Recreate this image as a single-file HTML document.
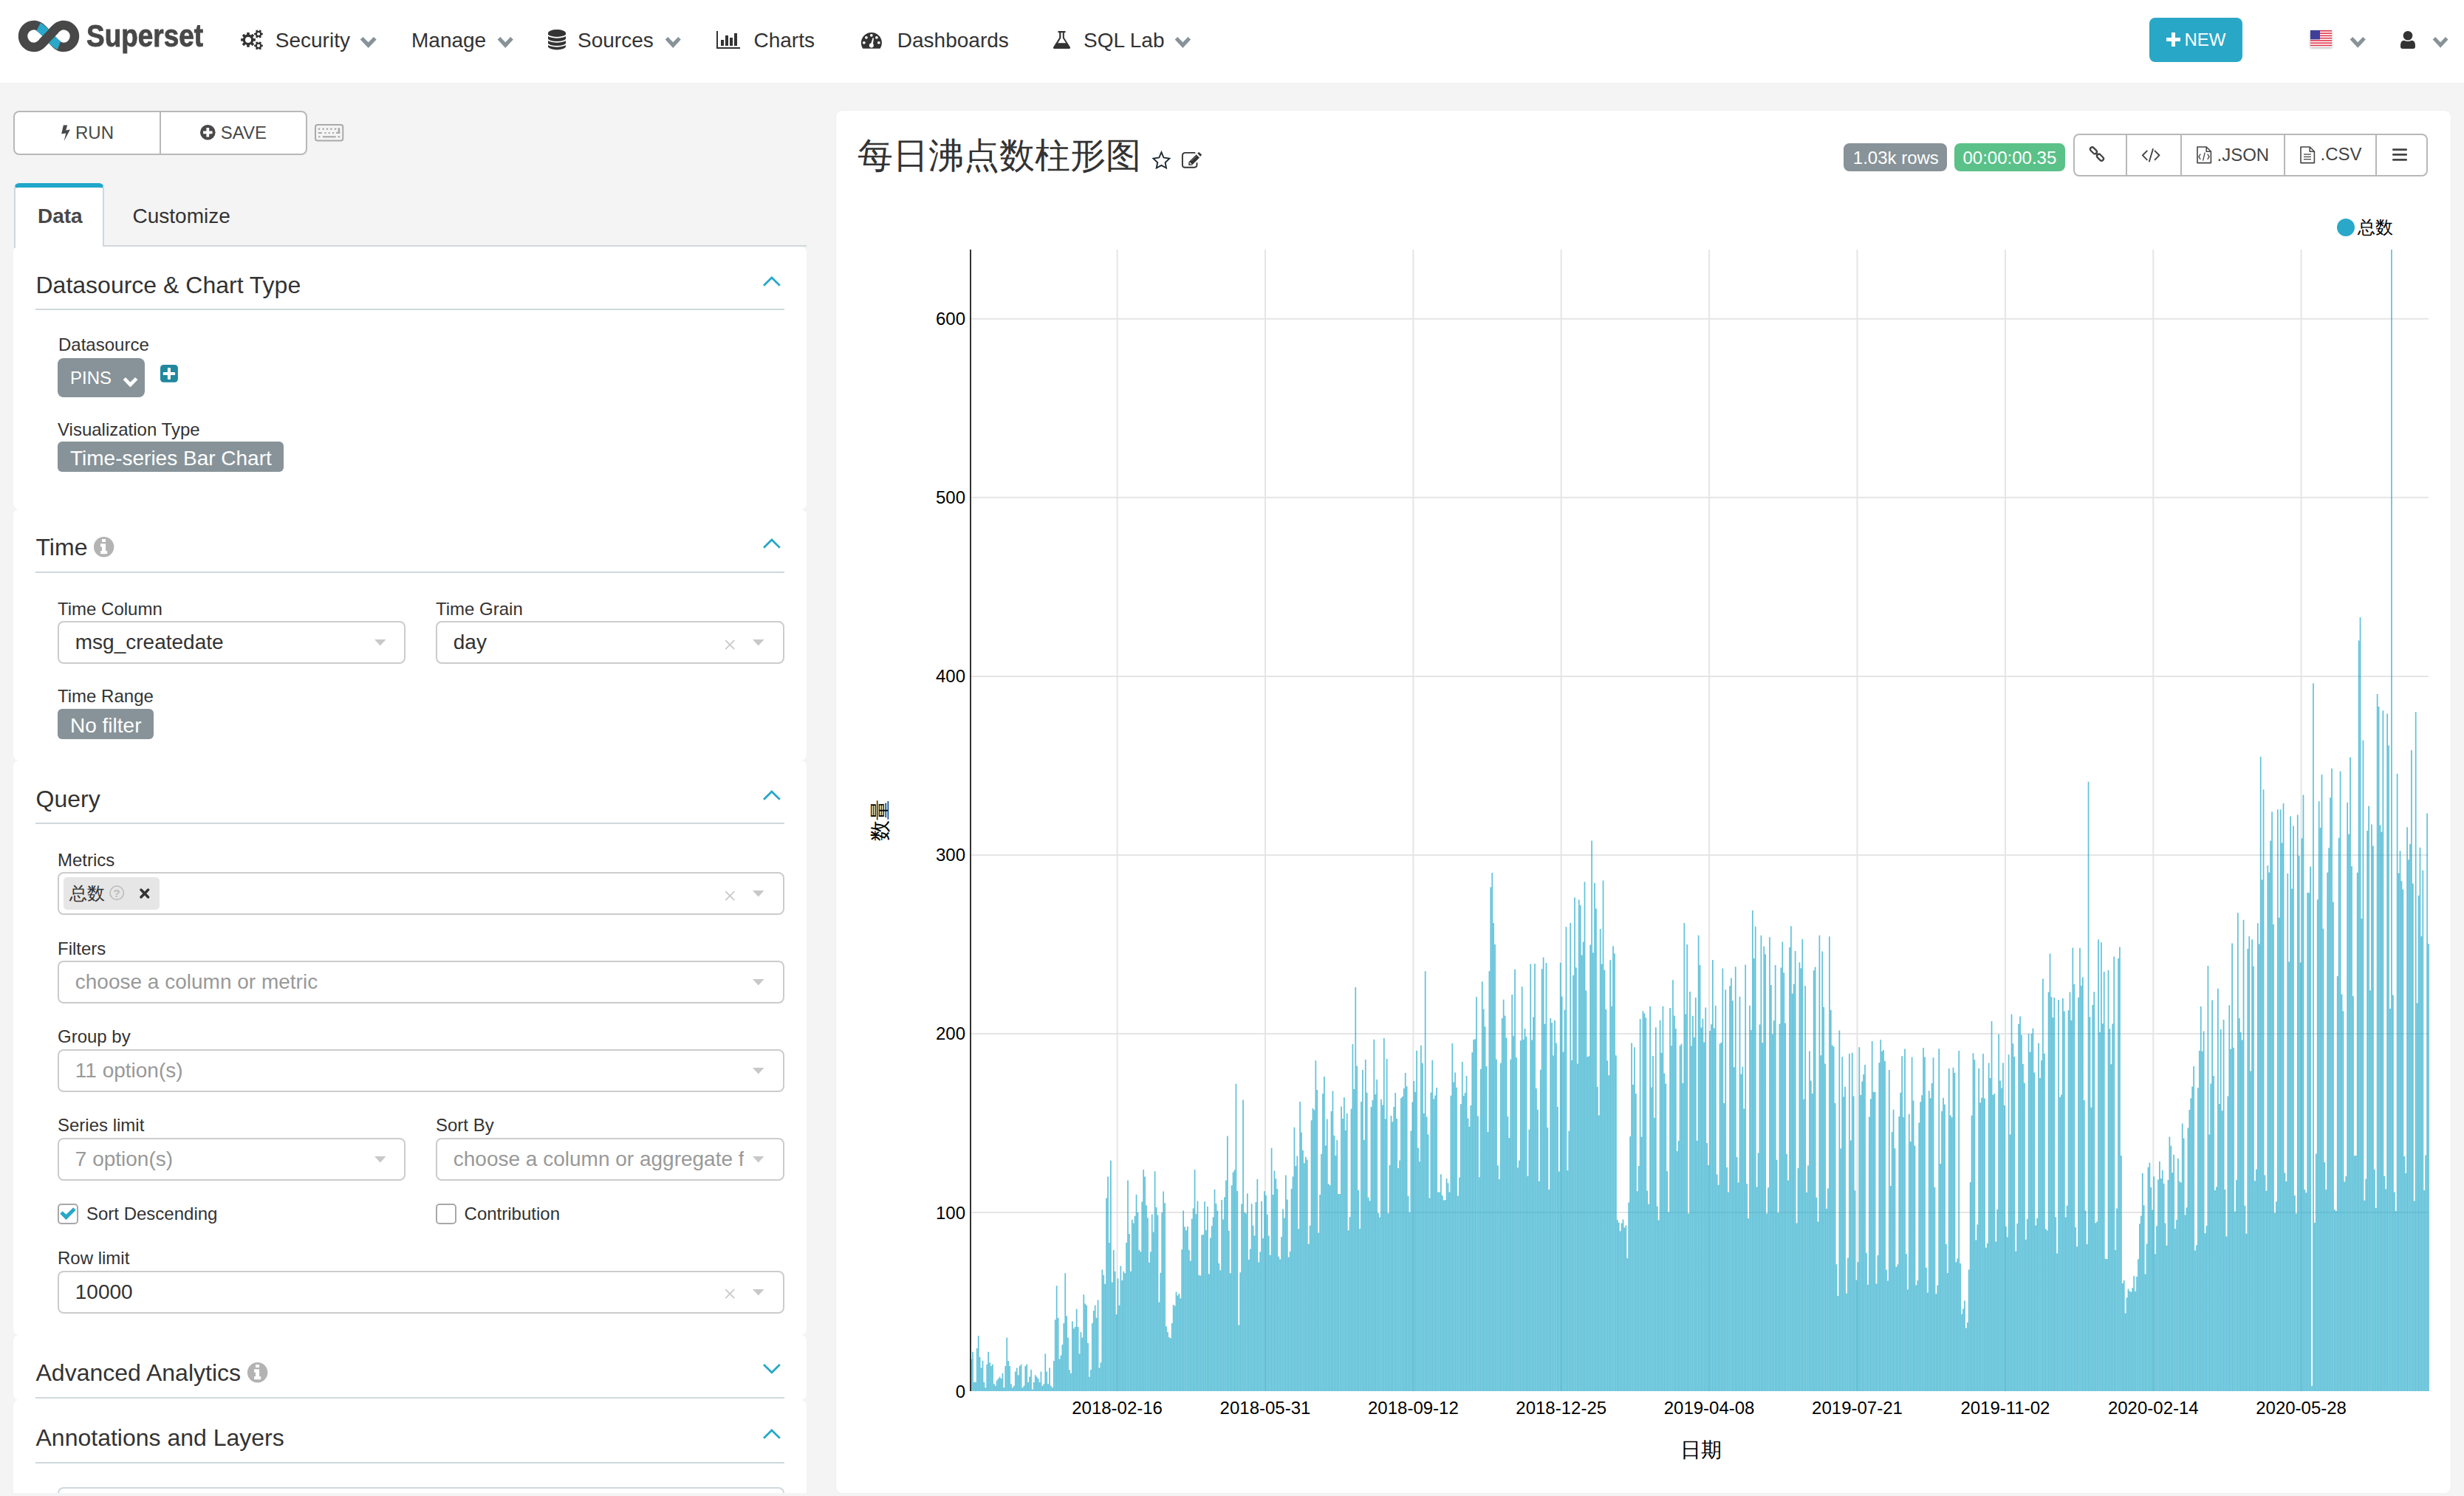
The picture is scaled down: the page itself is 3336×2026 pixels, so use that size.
<!DOCTYPE html>
<html><head><meta charset="utf-8"><title>Superset</title>
<style>
html,body{margin:0;padding:0;}
html{overflow:hidden;}
body{width:3336px;height:2026px;position:relative;overflow:hidden;background:#f4f4f4;font-family:"Liberation Sans", sans-serif;}
.t{position:absolute;white-space:nowrap;}
.b{position:absolute;display:block;}
</style></head><body>
<script>(function(){var w=window.innerWidth||3336;var z=w/3336;if(Math.abs(z-1)>0.01){document.documentElement.style.zoom=z;}})();</script>
<div class="b" style="left:0.0px;top:0.0px;width:3336.0px;height:112.0px;background:#fff;"></div>
<svg class="b" style="left:0.0px;top:0.0px;" width="120" height="100" viewBox="0 0 120 100"><path d="M66,49 C60,43 55,34 46,34 A15,15 0 0 0 46,64 C55,64 60,55 66,49 C72,43 77,34 86,34 A15,15 0 0 1 86,64 C77,64 72,55 66,49 Z" fill="none" stroke="#484848" stroke-width="12.5"/><path d="M52,36.5 C57,39 61,44 66,49 C71,54 75,59.5 80,61.5" fill="none" stroke="#2AA8C9" stroke-width="12.5"/><path d="M57,58 C60,55.5 63,52 66,49 C69,46 72,42.5 75,40" fill="none" stroke="#484848" stroke-width="12.5"/></svg>
<div class="t" style="left:116.8px;top:24.3px;font-size:42.4px;line-height:50px;font-weight:bold;color:#484848;transform:scaleX(0.871);transform-origin:0 0;letter-spacing:0px;-webkit-text-stroke:0.9px #484848">Superset</div>
<svg class="b" style="left:326.0px;top:40.0px;" width="31" height="29" viewBox="0 0 31 29">
<g fill="#333">
<circle cx="10" cy="13.9" r="7.3"/>
<g transform="translate(10,13.9)">
<rect x="-1.8" y="-9.9" width="3.6" height="19.8"/>
<rect x="-1.8" y="-9.9" width="3.6" height="19.8" transform="rotate(45)"/>
<rect x="-1.8" y="-9.9" width="3.6" height="19.8" transform="rotate(90)"/>
<rect x="-1.8" y="-9.9" width="3.6" height="19.8" transform="rotate(135)"/>
</g>
<g transform="translate(24,6)">
<circle r="4.3"/>
<rect x="-1.3" y="-5.8" width="2.6" height="11.6" transform="rotate(90)"/>
<rect x="-1.3" y="-5.8" width="2.6" height="11.6" transform="rotate(30)"/>
<rect x="-1.3" y="-5.8" width="2.6" height="11.6" transform="rotate(150)"/>
</g>
<g transform="translate(24,21.9)">
<circle r="4.3"/>
<rect x="-1.3" y="-5.8" width="2.6" height="11.6" transform="rotate(90)"/>
<rect x="-1.3" y="-5.8" width="2.6" height="11.6" transform="rotate(30)"/>
<rect x="-1.3" y="-5.8" width="2.6" height="11.6" transform="rotate(150)"/>
</g>
</g>
<circle cx="10" cy="13.9" r="4.0" fill="#fff"/>
<circle cx="24" cy="6" r="2.1" fill="#fff"/>
<circle cx="24" cy="21.9" r="2.1" fill="#fff"/>
</svg>
<div class="t " style="left:372.8px;top:41.0px;font-size:28px;line-height:28px;color:#333333;font-weight:normal;">Security</div>
<svg class="b" style="left:486.6px;top:50.0px;" width="23.399999999999977" height="15" viewBox="0 0 23.399999999999977 15"><polygon points="0.70,3.60 4.45,0.00 11.70,7.35 18.95,0.00 22.70,3.60 11.70,15.00" fill="#879399"/></svg>
<div class="t " style="left:557.0px;top:41.0px;font-size:28px;line-height:28px;color:#333333;font-weight:normal;">Manage</div>
<svg class="b" style="left:673.0px;top:50.0px;" width="22.5" height="15" viewBox="0 0 22.5 15"><polygon points="0.67,3.60 4.28,0.00 11.25,7.35 18.23,0.00 21.82,3.60 11.25,15.00" fill="#879399"/></svg>
<svg class="b" style="left:742.0px;top:40.0px;" width="24" height="28" viewBox="0 0 24 28"><g fill="#333"><ellipse cx="12" cy="4.75" rx="12" ry="4.75"/>
<path d="M0,4.75 V22.75 A12,4.75 0 0 0 24,22.75 V4.75 Z"/></g>
<g fill="none" stroke="#fff" stroke-width="1.7">
<path d="M-1,6.05 A13,4.75 0 0 0 25,6.05"/><path d="M-1,12.1 A13,4.75 0 0 0 25,12.1"/><path d="M-1,18.15 A13,4.75 0 0 0 25,18.15"/></g></svg>
<div class="t " style="left:782.0px;top:41.0px;font-size:28px;line-height:28px;color:#333333;font-weight:normal;">Sources</div>
<svg class="b" style="left:899.5px;top:50.0px;" width="22.5" height="15" viewBox="0 0 22.5 15"><polygon points="0.67,3.60 4.28,0.00 11.25,7.35 18.23,0.00 21.82,3.60 11.25,15.00" fill="#879399"/></svg>
<svg class="b" style="left:970.0px;top:42.0px;" width="32" height="24" viewBox="0 0 32 24"><g fill="#333">
<rect x="0" y="0" width="2" height="24"/>
<rect x="0" y="22" width="32" height="2"/>
<rect x="6" y="12" width="4" height="8"/>
<rect x="12" y="6" width="4" height="14"/>
<rect x="18" y="9" width="4" height="11"/>
<rect x="24" y="3" width="4" height="17"/>
</g></svg>
<div class="t " style="left:1020.5px;top:41.0px;font-size:28px;line-height:28px;color:#333333;font-weight:normal;">Charts</div>
<svg class="b" style="left:1166.3px;top:44.1px;" width="28" height="22" viewBox="0 0 28 22"><path d="M2.2,21.7 A14,14 0 1 1 25.6,21.7 Z" fill="#333"/>
<g fill="#fff">
<circle cx="3.8" cy="13.8" r="1.9"/>
<circle cx="6.9" cy="6.8" r="1.9"/>
<circle cx="13.8" cy="3.8" r="1.9"/>
<circle cx="20.9" cy="6.8" r="1.9"/>
<circle cx="23.8" cy="13.8" r="1.9"/>
<path d="M12.6,17 L15.6,7.2 L17.1,7.5 L15.6,17.6 Z"/>
<circle cx="13.8" cy="17.6" r="3"/>
</g></svg>
<div class="t " style="left:1214.8px;top:41.0px;font-size:28px;line-height:28px;color:#333333;font-weight:normal;">Dashboards</div>
<svg class="b" style="left:1426.0px;top:42.0px;" width="23" height="24" viewBox="0 0 23 24"><path d="M6.5,0 L16.5,0 L16.5,2.2 L14.8,2.2 L14.8,9 L23,22 Q23.5,24 21.5,24 L1.5,24 Q-0.5,24 0,22 L8.2,9 L8.2,2.2 L6.5,2.2 Z" fill="#333"/>
<path d="M10.4,2.2 L12.8,2.2 L12.8,9.6 L17.2,16.2 L6.2,16.2 L10.4,9.6 Z" fill="#fff"/></svg>
<div class="t " style="left:1467.0px;top:41.0px;font-size:28px;line-height:28px;color:#333333;font-weight:normal;">SQL Lab</div>
<svg class="b" style="left:1590.0px;top:50.0px;" width="22.799999999999955" height="15" viewBox="0 0 22.799999999999955 15"><polygon points="0.68,3.60 4.33,0.00 11.40,7.35 18.47,0.00 22.12,3.60 11.40,15.00" fill="#879399"/></svg>
<div class="b" style="left:2910.0px;top:24.0px;width:126.0px;height:60.0px;background:#29A7C7;border-radius:8px;"></div>
<svg class="b" style="left:2932.8px;top:43.5px;" width="19" height="19" viewBox="0 0 19 19"><path d="M7,0 H12 V7 H19 V12 H12 V19 H7 V12 H0 V7 H7 Z" fill="#fff" /></svg>
<div class="t " style="left:2957.5px;top:41.9px;font-size:24px;line-height:24px;color:#fff;font-weight:normal;">NEW</div>
<svg class="b" style="left:3127.7px;top:41.4px;filter:drop-shadow(0 1px 1.5px rgba(0,0,0,.35));" width="29" height="23" viewBox="0 0 29 23"><rect x="0" y="0" width="29" height="23" fill="#fff"/><rect x="0" y="0.00" width="29" height="1.64" fill="#E0364C"/><rect x="0" y="3.29" width="29" height="1.64" fill="#E0364C"/><rect x="0" y="6.57" width="29" height="1.64" fill="#E0364C"/><rect x="0" y="9.86" width="29" height="1.64" fill="#E0364C"/><rect x="0" y="13.14" width="29" height="1.64" fill="#E0364C"/><rect x="0" y="16.43" width="29" height="1.64" fill="#E0364C"/><rect x="0" y="19.71" width="29" height="1.64" fill="#E0364C"/><rect x="0" y="0" width="13" height="12.4" fill="#3F3F9A"/></svg>
<svg class="b" style="left:3181.0px;top:50.0px;" width="22.5" height="14.700000000000003" viewBox="0 0 22.5 14.700000000000003"><polygon points="0.67,3.53 4.28,0.00 11.25,7.20 18.23,0.00 21.82,3.53 11.25,14.70" fill="#879399"/></svg>
<svg class="b" style="left:3250.0px;top:41.8px;" width="20" height="24" viewBox="0 0 20 24"><circle cx="10" cy="6.3" r="6.3" fill="#333"/>
<path d="M0,20 Q0,12.8 5,12.8 Q10,15.3 15,12.8 Q20,12.8 20,20 L20,21 Q20,24 17,24 L3,24 Q0,24 0,21 Z" fill="#333"/></svg>
<svg class="b" style="left:3292.8px;top:50.0px;" width="22.199999999999818" height="14.700000000000003" viewBox="0 0 22.199999999999818 14.700000000000003"><polygon points="0.67,3.53 4.22,0.00 11.10,7.20 17.98,0.00 21.53,3.53 11.10,14.70" fill="#879399"/></svg>
<div class="b" style="left:18.0px;top:150.0px;width:398.0px;height:60.0px;background:#fff;border:2px solid #b8b8b8;border-radius:8px;box-sizing:border-box;"></div>
<div class="b" style="left:216.0px;top:150.0px;width:2.0px;height:60.0px;background:#b8b8b8;"></div>
<svg class="b" style="left:81.8px;top:168.6px;" width="14" height="23" viewBox="0 0 14 23"><path d="M3.9,0.4 L9.2,0.4 L7.2,7.4 L12.9,6.4 L4.6,22.3 L7.3,11.6 L1.2,12.2 Z" fill="#484848"/></svg>
<div class="t " style="left:102.0px;top:168.3px;font-size:24px;line-height:24px;color:#484848;font-weight:normal;">RUN</div>
<svg class="b" style="left:271.2px;top:168.9px;" width="21" height="21" viewBox="0 0 21 21"><circle cx="10.3" cy="10.3" r="10.3" fill="#484848"/><rect x="4" y="8.4" width="12.6" height="3.8" rx="0.6" fill="#fff"/><rect x="8.4" y="4" width="3.8" height="12.6" rx="0.6" fill="#fff"/></svg>
<div class="t " style="left:298.7px;top:168.0px;font-size:24px;line-height:24px;color:#484848;font-weight:normal;">SAVE</div>
<svg class="b" style="left:426.4px;top:168.1px;" width="40" height="24" viewBox="0 0 40 24"><rect x="1" y="1" width="37.3" height="21.4" rx="3" fill="none" stroke="#aaa" stroke-width="2"/><g fill="#aaa"><rect x="4.8" y="5.5" width="2.4" height="2.3"/><rect x="10.4" y="5.5" width="2.4" height="2.3"/><rect x="15.8" y="5.5" width="2.4" height="2.3"/><rect x="21.1" y="5.5" width="2.4" height="2.3"/><rect x="26.8" y="5.5" width="2.4" height="2.3"/><rect x="31.6" y="5.1" width="2.6" height="7.8"/><rect x="29" y="10.9" width="5.2" height="2"/><rect x="4.8" y="11" width="5" height="2"/><rect x="13.4" y="11" width="2.2" height="2"/><rect x="18.6" y="11" width="2.2" height="2"/><rect x="24" y="11" width="2.2" height="2"/><rect x="5.2" y="16.2" width="2.2" height="2.1"/><rect x="10.8" y="16.2" width="17.9" height="2.1"/><rect x="31.6" y="16.2" width="2.6" height="2.1"/></g></svg>
<div class="b" style="left:141.0px;top:332.0px;width:951.0px;height:2.0px;background:#CFD8DC;"></div>
<div class="b" style="left:19.0px;top:248.0px;width:122.0px;height:88.0px;background:#fff;border:2px solid #CFD8DC;border-bottom:none;border-top:6px solid #20A7C9;border-radius:7px 7px 0 0;box-sizing:border-box;"></div>
<div class="t " style="left:51.0px;top:278.8px;font-size:28px;line-height:28px;color:#484848;font-weight:bold;">Data</div>
<div class="t " style="left:179.5px;top:278.8px;font-size:28px;line-height:28px;color:#333333;font-weight:normal;">Customize</div>
<div class="b" style="left:18.0px;top:334.0px;width:1074.0px;height:355.5px;background:#fff;border-radius:8px;"></div>
<div class="b" style="left:18.0px;top:689.5px;width:1074.0px;height:340.5px;background:#fff;border-radius:8px;"></div>
<div class="b" style="left:18.0px;top:1030.0px;width:1074.0px;height:777.5px;background:#fff;border-radius:8px;"></div>
<div class="b" style="left:18.0px;top:1807.5px;width:1074.0px;height:88.0px;background:#fff;border-radius:8px;"></div>
<div class="b" style="left:18.0px;top:1895.5px;width:1074.0px;height:126.5px;background:#fff;border-radius:8px;border-bottom-left-radius:0;border-bottom-right-radius:0;"></div>
<div class="t " style="left:48.5px;top:369.9px;font-size:32px;line-height:32px;color:#333333;font-weight:normal;">Datasource &amp; Chart Type</div>
<div class="b" style="left:48.0px;top:418.0px;width:1014.0px;height:2.0px;background:#CFD8DC;"></div>
<svg class="b" style="left:1030.0px;top:371.9px;" width="29.8" height="18.7" viewBox="0 0 29.8 18.7"><polyline points="4,14.7 14.9,4 25.8,14.7" fill="none" stroke="#27A7C7" stroke-width="2.8" stroke-linejoin="miter"/></svg>
<div class="t " style="left:79.0px;top:455.2px;font-size:24px;line-height:24px;color:#333333;font-weight:normal;">Datasource</div>
<div class="b" style="left:78.0px;top:484.5px;width:117.5px;height:53.1px;background:#879399;border-radius:8px;"></div>
<div class="t " style="left:95.0px;top:499.7px;font-size:24px;line-height:24px;color:#fff;font-weight:normal;">PINS</div>
<svg class="b" style="left:166.0px;top:510.5px;" width="21" height="13.5" viewBox="0 0 21 13.5"><polygon points="0.63,3.24 3.99,0.00 10.50,6.62 17.01,0.00 20.37,3.24 10.50,13.50" fill="#fff"/></svg>
<svg class="b" style="left:216.8px;top:494.0px;" width="24" height="24" viewBox="0 0 24 24"><rect x="0" y="0" width="23.9" height="23.7" rx="4.5" fill="#21889E"/><rect x="3.8" y="10" width="16.3" height="4.1" rx="1.2" fill="#fff"/><rect x="9.9" y="3.9" width="4.1" height="16" rx="1.2" fill="#fff"/></svg>
<div class="t " style="left:78.0px;top:569.7px;font-size:24px;line-height:24px;color:#333333;font-weight:normal;">Visualization Type</div>
<div class="b" style="left:78.0px;top:598.3px;width:306.0px;height:41.1px;background:#879399;border-radius:6px;"></div>
<div class="t " style="left:95.0px;top:606.7px;font-size:28px;line-height:28px;color:#fff;font-weight:normal;">Time-series Bar Chart</div>
<div class="t " style="left:48.5px;top:725.4px;font-size:32px;line-height:32px;color:#333333;font-weight:normal;">Time</div>
<div class="b" style="left:48.0px;top:773.5px;width:1014.0px;height:2.0px;background:#CFD8DC;"></div>
<svg class="b" style="left:1030.0px;top:727.4px;" width="29.8" height="18.7" viewBox="0 0 29.8 18.7"><polyline points="4,14.7 14.9,4 25.8,14.7" fill="none" stroke="#27A7C7" stroke-width="2.8" stroke-linejoin="miter"/></svg>
<svg class="b" style="left:126.8px;top:726.7px;" width="28" height="28" viewBox="0 0 28 28"><circle cx="13.65" cy="13.75" r="13.7" fill="#b3b3b3"/><g fill="#fff"><rect x="11" y="2.9" width="5.1" height="4.2" rx="0.6"/><rect x="11" y="9.3" width="5.1" height="13.8"/><rect x="9" y="9.3" width="2.5" height="4.3"/><rect x="9" y="19.1" width="9.2" height="4"/></g></svg>
<div class="t " style="left:78.0px;top:812.7px;font-size:24px;line-height:24px;color:#333333;font-weight:normal;">Time Column</div>
<div class="t " style="left:590.0px;top:812.7px;font-size:24px;line-height:24px;color:#333333;font-weight:normal;">Time Grain</div>
<div class="b" style="left:78.0px;top:840.7px;width:471.0px;height:58.3px;background:#fff;border:2px solid #ccc;border-radius:8px;box-sizing:border-box;"></div>
<svg class="b" style="left:506.8px;top:866.1px;" width="16" height="9" viewBox="0 0 16 9"><path d="M0,0 L15.5,0 L7.75,8.6 Z" fill="#c8c8c8"/></svg>
<div class="t " style="left:101.8px;top:855.8px;font-size:28px;line-height:28px;color:#333333;font-weight:normal;">msg_createdate</div>
<div class="b" style="left:590.0px;top:840.7px;width:471.6px;height:58.3px;background:#fff;border:2px solid #ccc;border-radius:8px;box-sizing:border-box;"></div>
<svg class="b" style="left:1019.4px;top:866.1px;" width="16" height="9" viewBox="0 0 16 9"><path d="M0,0 L15.5,0 L7.75,8.6 Z" fill="#c8c8c8"/></svg>
<svg class="b" style="left:980.6px;top:865.6px;" width="15" height="15" viewBox="0 0 15 15"><path d="M1.2,1.2 L13.2,13.2 M13.2,1.2 L1.2,13.2" stroke="#c8c8c8" stroke-width="1.7"/></svg>
<div class="t " style="left:613.8px;top:855.8px;font-size:28px;line-height:28px;color:#333333;font-weight:normal;">day</div>
<div class="t " style="left:78.0px;top:931.1px;font-size:24px;line-height:24px;color:#333333;font-weight:normal;">Time Range</div>
<div class="b" style="left:78.0px;top:960.4px;width:129.6px;height:41.0px;background:#879399;border-radius:6px;"></div>
<div class="t " style="left:95.0px;top:968.8px;font-size:28px;line-height:28px;color:#fff;font-weight:normal;">No filter</div>
<div class="t " style="left:48.5px;top:1065.9px;font-size:32px;line-height:32px;color:#333333;font-weight:normal;">Query</div>
<div class="b" style="left:48.0px;top:1114.0px;width:1014.0px;height:2.0px;background:#CFD8DC;"></div>
<svg class="b" style="left:1030.0px;top:1067.9px;" width="29.8" height="18.7" viewBox="0 0 29.8 18.7"><polyline points="4,14.7 14.9,4 25.8,14.7" fill="none" stroke="#27A7C7" stroke-width="2.8" stroke-linejoin="miter"/></svg>
<div class="t " style="left:78.0px;top:1152.6px;font-size:24px;line-height:24px;color:#333333;font-weight:normal;">Metrics</div>
<div class="b" style="left:78.0px;top:1180.9px;width:983.6px;height:58.0px;background:#fff;border:2px solid #ccc;border-radius:8px;box-sizing:border-box;"></div>
<svg class="b" style="left:1019.4px;top:1206.2px;" width="16" height="9" viewBox="0 0 16 9"><path d="M0,0 L15.5,0 L7.75,8.6 Z" fill="#c8c8c8"/></svg>
<svg class="b" style="left:980.6px;top:1205.6px;" width="15" height="15" viewBox="0 0 15 15"><path d="M1.2,1.2 L13.2,13.2 M13.2,1.2 L1.2,13.2" stroke="#c8c8c8" stroke-width="1.7"/></svg>
<div class="b" style="left:86.2px;top:1188.1px;width:129.5px;height:43.8px;background:#e6e6e6;border-radius:5px;"></div>
<div class="t " style="left:93.5px;top:1197.7px;font-size:24px;line-height:24px;color:#333333;font-weight:normal;">总数</div>
<svg class="b" style="left:148.3px;top:1199.3px;" width="20.4" height="20.4" viewBox="0 0 20.4 20.4"><circle cx="10.2" cy="10.2" r="9.2" fill="none" stroke="#bbb" stroke-width="1.6"/><text x="10.2" y="15.6" text-anchor="middle" font-family="Liberation Sans" font-weight="bold" font-size="15" fill="#bbb">?</text></svg>
<svg class="b" style="left:189.0px;top:1203.0px;" width="13.6" height="14" viewBox="0 0 13.6 14"><path d="M2,2 L11.6,12 M11.6,2 L2,12" stroke="#333" stroke-width="3.4" stroke-linecap="round"/></svg>
<div class="t " style="left:78.0px;top:1273.1px;font-size:24px;line-height:24px;color:#333333;font-weight:normal;">Filters</div>
<div class="b" style="left:78.0px;top:1300.5px;width:983.6px;height:58.5px;background:#fff;border:2px solid #ccc;border-radius:8px;box-sizing:border-box;"></div>
<svg class="b" style="left:1019.4px;top:1326.0px;" width="16" height="9" viewBox="0 0 16 9"><path d="M0,0 L15.5,0 L7.75,8.6 Z" fill="#c8c8c8"/></svg>
<div class="t " style="left:101.8px;top:1315.7px;font-size:28px;line-height:28px;color:#999;font-weight:normal;">choose a column or metric</div>
<div class="t " style="left:78.0px;top:1391.7px;font-size:24px;line-height:24px;color:#333333;font-weight:normal;">Group by</div>
<div class="b" style="left:78.0px;top:1420.6px;width:983.6px;height:58.1px;background:#fff;border:2px solid #ccc;border-radius:8px;box-sizing:border-box;"></div>
<svg class="b" style="left:1019.4px;top:1446.0px;" width="16" height="9" viewBox="0 0 16 9"><path d="M0,0 L15.5,0 L7.75,8.6 Z" fill="#c8c8c8"/></svg>
<div class="t " style="left:101.8px;top:1435.6px;font-size:28px;line-height:28px;color:#999;font-weight:normal;">11 option(s)</div>
<div class="t " style="left:78.0px;top:1512.4px;font-size:24px;line-height:24px;color:#333333;font-weight:normal;">Series limit</div>
<div class="t " style="left:590.0px;top:1512.4px;font-size:24px;line-height:24px;color:#333333;font-weight:normal;">Sort By</div>
<div class="b" style="left:78.0px;top:1540.7px;width:471.0px;height:58.0px;background:#fff;border:2px solid #ccc;border-radius:8px;box-sizing:border-box;"></div>
<svg class="b" style="left:506.8px;top:1566.0px;" width="16" height="9" viewBox="0 0 16 9"><path d="M0,0 L15.5,0 L7.75,8.6 Z" fill="#c8c8c8"/></svg>
<div class="t " style="left:101.8px;top:1555.7px;font-size:28px;line-height:28px;color:#999;font-weight:normal;">7 option(s)</div>
<div class="b" style="left:590.0px;top:1540.7px;width:471.6px;height:58.0px;background:#fff;border:2px solid #ccc;border-radius:8px;box-sizing:border-box;"></div>
<svg class="b" style="left:1019.4px;top:1566.0px;" width="16" height="9" viewBox="0 0 16 9"><path d="M0,0 L15.5,0 L7.75,8.6 Z" fill="#c8c8c8"/></svg>
<div class="t" style="left:613.8px;top:1546px;width:393px;height:48px;overflow:hidden;font-size:28px;line-height:48px;color:#999;white-space:nowrap">choose a column or aggregate function</div>
<div class="b" style="left:78.0px;top:1630.0px;width:27.8px;height:27.8px;background:#fff;border:2px solid #a8a8a8;border-radius:5px;box-sizing:border-box;"></div>
<svg class="b" style="left:78.0px;top:1630.0px;" width="28" height="28" viewBox="0 0 28 28"><polygon points="6.6,10.8 11.5,15.1 21.3,5.9 24.1,8.8 11.5,21.5 3.8,13.7" fill="#2AA8C8" stroke="#2AA8C8" stroke-width="1" stroke-linejoin="round"/></svg>
<div class="t " style="left:117.0px;top:1632.0px;font-size:24px;line-height:24px;color:#333333;font-weight:normal;">Sort Descending</div>
<div class="b" style="left:590.0px;top:1630.0px;width:27.8px;height:27.8px;background:#fff;border:2px solid #a8a8a8;border-radius:5px;box-sizing:border-box;"></div>
<div class="t " style="left:628.6px;top:1632.0px;font-size:24px;line-height:24px;color:#333333;font-weight:normal;">Contribution</div>
<div class="t " style="left:78.0px;top:1692.3px;font-size:24px;line-height:24px;color:#333333;font-weight:normal;">Row limit</div>
<div class="b" style="left:78.0px;top:1720.6px;width:983.6px;height:58.1px;background:#fff;border:2px solid #ccc;border-radius:8px;box-sizing:border-box;"></div>
<svg class="b" style="left:1019.4px;top:1746.0px;" width="16" height="9" viewBox="0 0 16 9"><path d="M0,0 L15.5,0 L7.75,8.6 Z" fill="#c8c8c8"/></svg>
<svg class="b" style="left:980.6px;top:1745.4px;" width="15" height="15" viewBox="0 0 15 15"><path d="M1.2,1.2 L13.2,13.2 M13.2,1.2 L1.2,13.2" stroke="#c8c8c8" stroke-width="1.7"/></svg>
<div class="t " style="left:101.8px;top:1735.6px;font-size:28px;line-height:28px;color:#333333;font-weight:normal;">10000</div>
<div class="t " style="left:48.5px;top:1843.4px;font-size:32px;line-height:32px;color:#333333;font-weight:normal;">Advanced Analytics</div>
<div class="b" style="left:48.0px;top:1891.5px;width:1014.0px;height:2.0px;background:#CFD8DC;"></div>
<svg class="b" style="left:1030.0px;top:1844.1px;" width="29.8" height="18.7" viewBox="0 0 29.8 18.7"><polyline points="4,4 14.9,14.7 25.8,4" fill="none" stroke="#27A7C7" stroke-width="2.8" stroke-linejoin="miter"/></svg>
<svg class="b" style="left:334.6px;top:1844.7px;" width="28" height="28" viewBox="0 0 28 28"><circle cx="13.65" cy="13.75" r="13.7" fill="#b3b3b3"/><g fill="#fff"><rect x="11" y="2.9" width="5.1" height="4.2" rx="0.6"/><rect x="11" y="9.3" width="5.1" height="13.8"/><rect x="9" y="9.3" width="2.5" height="4.3"/><rect x="9" y="19.1" width="9.2" height="4"/></g></svg>
<div class="t " style="left:48.5px;top:1931.4px;font-size:32px;line-height:32px;color:#333333;font-weight:normal;">Annotations and Layers</div>
<div class="b" style="left:48.0px;top:1979.5px;width:1014.0px;height:2.0px;background:#CFD8DC;"></div>
<svg class="b" style="left:1030.0px;top:1933.4px;" width="29.8" height="18.7" viewBox="0 0 29.8 18.7"><polyline points="4,14.7 14.9,4 25.8,14.7" fill="none" stroke="#27A7C7" stroke-width="2.8" stroke-linejoin="miter"/></svg>
<div class="b" style="left:78.0px;top:2014.2px;width:983.8px;height:7.8px;background:#fff;border:2px solid #CFD8DC;border-bottom:none;border-radius:8px 8px 0 0;box-sizing:border-box;"></div>
<div class="b" style="left:1132.0px;top:150.0px;width:2186.0px;height:1872.0px;background:#fff;border-radius:8px;box-shadow:0 0 2px rgba(0,0,0,0.07);"></div>
<div class="t" style="left:1161px;top:178px;font-size:47.5px;line-height:66px;color:#333;letter-spacing:0px">每日沸点数柱形图</div>
<svg class="b" style="left:1559.0px;top:204.0px;" width="27" height="27" viewBox="0 0 27 27"><polygon points="13.4,2.2 16.5,9.5 24.3,10.6 18.6,16.0 20.0,23.5 13.4,19.8 6.8,23.5 8.2,16.0 2.5,10.6 10.3,9.5" fill="none" stroke="#1e2a32" stroke-width="1.9" stroke-linejoin="miter"/></svg>
<svg class="b" style="left:1599.0px;top:205.0px;" width="30" height="25" viewBox="0 0 30 25"><path d="M19.3,1.9 H6 Q1.9,1.9 1.9,6 V18.6 Q1.9,21.8 5.5,21.8 H17.8 Q21.5,21.8 21.5,18.1 V15.2" fill="none" stroke="#333" stroke-width="1.9"/><polygon points="10.2,18.7 10.4,14.5 20.6,4.2 25,8.4 14.7,18.7" fill="#333"/><polygon points="22.2,2.6 24.2,1.0 28.1,4.6 26.2,7.0" fill="#333"/><path d="M11.6,15.2 L14.1,17.6" stroke="#fff" stroke-width="1.3"/><path d="M14.5,12.6 L20.5,6.6" stroke="#fff" stroke-width="0.6" stroke-dasharray="1,0.6"/></svg>
<div class="b" style="left:2496.0px;top:194.0px;width:140.0px;height:37.8px;background:#879399;border-radius:8px;"></div>
<div class="t " style="left:2508.8px;top:202.4px;font-size:24px;line-height:24px;color:#fff;font-weight:normal;">1.03k rows</div>
<div class="b" style="left:2645.8px;top:194.0px;width:150.2px;height:37.8px;background:#5AC189;border-radius:8px;"></div>
<div class="t " style="left:2657.5px;top:202.4px;font-size:24px;line-height:24px;color:#fff;font-weight:normal;">00:00:00.35</div>
<div class="b" style="left:2806.5px;top:180.6px;width:480.5px;height:58.4px;background:#fff;border:2px solid #b8b8b8;border-radius:8px;box-sizing:border-box;"></div>
<div class="b" style="left:2877.7px;top:180.6px;width:2.0px;height:58.4px;background:#b8b8b8;"></div>
<div class="b" style="left:2951.7px;top:180.6px;width:2.0px;height:58.4px;background:#b8b8b8;"></div>
<div class="b" style="left:3091.7px;top:180.6px;width:2.0px;height:58.4px;background:#b8b8b8;"></div>
<div class="b" style="left:3215.7px;top:180.6px;width:2.0px;height:58.4px;background:#b8b8b8;"></div>
<svg class="b" style="left:2826.0px;top:196.0px;" width="26" height="25" viewBox="0 0 26 25"><g fill="none" stroke="#444" stroke-width="2.3"><rect x="-5.2" y="-2.7" width="10.4" height="5.4" rx="2.7" transform="translate(8.4,7.8) rotate(45)"/><rect x="-5.2" y="-2.7" width="10.4" height="5.4" rx="2.7" transform="translate(17.5,17.2) rotate(45)"/></g><path d="M11.2,10.8 L14.7,14.3" stroke="#444" stroke-width="2.6"/></svg>
<svg class="b" style="left:2899.5px;top:201.0px;" width="25" height="19" viewBox="0 0 25 19"><g fill="none" stroke="#444" stroke-width="1.9"><polyline points="7.3,2.9 0.9,9.3 7.3,15.8"/><polyline points="17,2.9 23.4,9.3 17,15.8"/><line x1="9.7" y1="18.3" x2="15.1" y2="0.3"/></g></svg>
<svg class="b" style="left:2973.5px;top:197.5px;" width="21" height="24" viewBox="0 0 21 24"><path d="M1,1 H13.2 L19.4,7.2 V22.6 H1 Z" fill="none" stroke="#444" stroke-width="1.6" stroke-linejoin="round"/><path d="M13.2,1 V7.2 H19.4" fill="none" stroke="#444" stroke-width="1.5"/><g fill="none" stroke="#444" stroke-width="1.3"><polyline points="5.2,10.6 2.9,14.2 5.2,17.8"/><polyline points="14.7,10.6 17,14.2 14.7,17.8"/><line x1="8.6" y1="19.6" x2="11.2" y2="8.6"/></g></svg>
<div class="t " style="left:3001.5px;top:197.7px;font-size:24px;line-height:24px;color:#444;font-weight:normal;">.JSON</div>
<svg class="b" style="left:3113.8px;top:197.5px;" width="21" height="24" viewBox="0 0 21 24"><path d="M1,1 H13.2 L19.4,7.2 V22.6 H1 Z" fill="none" stroke="#444" stroke-width="1.6" stroke-linejoin="round"/><path d="M13.2,1 V7.2 H19.4" fill="none" stroke="#444" stroke-width="1.5"/><g stroke="#444" stroke-width="1.3"><line x1="5" y1="11" x2="14.9" y2="11"/><line x1="5" y1="14.4" x2="14.9" y2="14.4"/><line x1="5" y1="17.7" x2="14.9" y2="17.7"/></g></svg>
<div class="t " style="left:3141.5px;top:197.3px;font-size:24px;line-height:24px;color:#444;font-weight:normal;">.CSV</div>
<svg class="b" style="left:3238.9px;top:200.0px;" width="20" height="19" viewBox="0 0 20 19"><g fill="#444"><rect x="0" y="1.2" width="20" height="2.7" rx="1.2"/><rect x="0" y="8.1" width="20" height="2.7" rx="1.2"/><rect x="0" y="15" width="20" height="2.7" rx="1.2"/></g></svg>
<svg class="b" style="left:3163.7px;top:296.0px;" width="24" height="24" viewBox="0 0 24 24"><circle cx="12" cy="12" r="12" fill="#2AA8C9"/></svg>
<div class="t " style="left:3192.0px;top:296.2px;font-size:24px;line-height:24px;color:#000;font-weight:normal;">总数</div>
<svg class="b" style="left:0;top:0" width="3336" height="2026" viewBox="0 0 3336 2026">
<defs><clipPath id="pc"><rect x="1314" y="338" width="1976" height="1546"/></clipPath></defs>
<path d="M1314.0,1642.0H3288.0M1314.0,1399.9H3288.0M1314.0,1157.9H3288.0M1314.0,915.9H3288.0M1314.0,673.8H3288.0M1314.0,431.8H3288.0M1512.6,338.0V1884.0M1713.0,338.0V1884.0M1913.4,338.0V1884.0M2113.7,338.0V1884.0M2314.1,338.0V1884.0M2514.5,338.0V1884.0M2714.9,338.0V1884.0M2915.3,338.0V1884.0M3115.6,338.0V1884.0" stroke="#e5e5e5" stroke-width="2" fill="none"/>
<path clip-path="url(#pc)" d="M1314.19,1840.4h1.73V1884.0h-1.73ZM1316.12,1830.8h1.73V1884.0h-1.73ZM1318.05,1871.9h1.73V1884.0h-1.73ZM1319.97,1871.9h1.73V1884.0h-1.73ZM1321.90,1825.9h1.73V1884.0h-1.73ZM1323.83,1809.0h1.73V1884.0h-1.73ZM1325.75,1838.0h1.73V1884.0h-1.73ZM1327.68,1852.5h1.73V1884.0h-1.73ZM1329.61,1842.9h1.73V1884.0h-1.73ZM1331.53,1871.9h1.73V1884.0h-1.73ZM1333.46,1879.2h1.73V1884.0h-1.73ZM1335.39,1847.7h1.73V1884.0h-1.73ZM1337.31,1830.8h1.73V1884.0h-1.73ZM1339.24,1845.3h1.73V1884.0h-1.73ZM1341.17,1850.1h1.73V1884.0h-1.73ZM1343.09,1847.7h1.73V1884.0h-1.73ZM1345.02,1874.3h1.73V1884.0h-1.73ZM1346.95,1876.7h1.73V1884.0h-1.73ZM1348.87,1869.5h1.73V1884.0h-1.73ZM1350.80,1867.1h1.73V1884.0h-1.73ZM1352.73,1864.6h1.73V1884.0h-1.73ZM1354.65,1867.1h1.73V1884.0h-1.73ZM1356.58,1859.8h1.73V1884.0h-1.73ZM1358.51,1879.2h1.73V1884.0h-1.73ZM1360.43,1850.1h1.73V1884.0h-1.73ZM1362.36,1811.4h1.73V1884.0h-1.73ZM1364.29,1842.9h1.73V1884.0h-1.73ZM1366.21,1850.1h1.73V1884.0h-1.73ZM1368.14,1874.3h1.73V1884.0h-1.73ZM1370.07,1879.2h1.73V1884.0h-1.73ZM1371.99,1876.7h1.73V1884.0h-1.73ZM1373.92,1857.4h1.73V1884.0h-1.73ZM1375.85,1852.5h1.73V1884.0h-1.73ZM1377.77,1862.2h1.73V1884.0h-1.73ZM1379.70,1850.1h1.73V1884.0h-1.73ZM1381.63,1847.7h1.73V1884.0h-1.73ZM1383.55,1879.2h1.73V1884.0h-1.73ZM1385.48,1876.7h1.73V1884.0h-1.73ZM1387.41,1850.1h1.73V1884.0h-1.73ZM1389.34,1847.7h1.73V1884.0h-1.73ZM1391.26,1871.9h1.73V1884.0h-1.73ZM1393.19,1864.6h1.73V1884.0h-1.73ZM1395.12,1855.0h1.73V1884.0h-1.73ZM1397.04,1881.6h1.73V1884.0h-1.73ZM1398.97,1871.9h1.73V1884.0h-1.73ZM1400.90,1862.2h1.73V1884.0h-1.73ZM1402.82,1864.6h1.73V1884.0h-1.73ZM1404.75,1867.1h1.73V1884.0h-1.73ZM1406.68,1871.9h1.73V1884.0h-1.73ZM1408.60,1857.4h1.73V1884.0h-1.73ZM1410.53,1876.7h1.73V1884.0h-1.73ZM1412.46,1874.3h1.73V1884.0h-1.73ZM1414.38,1833.2h1.73V1884.0h-1.73ZM1416.31,1857.4h1.73V1884.0h-1.73ZM1418.24,1874.3h1.73V1884.0h-1.73ZM1420.16,1852.5h1.73V1884.0h-1.73ZM1422.09,1876.7h1.73V1884.0h-1.73ZM1424.02,1879.2h1.73V1884.0h-1.73ZM1425.94,1842.9h1.73V1884.0h-1.73ZM1427.87,1787.2h1.73V1884.0h-1.73ZM1429.80,1741.2h1.73V1884.0h-1.73ZM1431.72,1784.8h1.73V1884.0h-1.73ZM1433.65,1840.4h1.73V1884.0h-1.73ZM1435.58,1835.6h1.73V1884.0h-1.73ZM1437.50,1821.1h1.73V1884.0h-1.73ZM1439.43,1792.0h1.73V1884.0h-1.73ZM1441.36,1724.3h1.73V1884.0h-1.73ZM1443.28,1782.3h1.73V1884.0h-1.73ZM1445.21,1811.4h1.73V1884.0h-1.73ZM1447.14,1855.0h1.73V1884.0h-1.73ZM1449.06,1859.8h1.73V1884.0h-1.73ZM1450.99,1789.6h1.73V1884.0h-1.73ZM1452.92,1799.3h1.73V1884.0h-1.73ZM1454.84,1796.9h1.73V1884.0h-1.73ZM1456.77,1772.7h1.73V1884.0h-1.73ZM1458.70,1796.9h1.73V1884.0h-1.73ZM1460.62,1833.2h1.73V1884.0h-1.73ZM1462.55,1804.1h1.73V1884.0h-1.73ZM1464.48,1811.4h1.73V1884.0h-1.73ZM1466.40,1753.3h1.73V1884.0h-1.73ZM1468.33,1765.4h1.73V1884.0h-1.73ZM1470.26,1767.8h1.73V1884.0h-1.73ZM1472.18,1818.7h1.73V1884.0h-1.73ZM1474.11,1864.6h1.73V1884.0h-1.73ZM1476.04,1855.0h1.73V1884.0h-1.73ZM1477.96,1792.0h1.73V1884.0h-1.73ZM1479.89,1775.1h1.73V1884.0h-1.73ZM1481.82,1767.8h1.73V1884.0h-1.73ZM1483.74,1784.8h1.73V1884.0h-1.73ZM1485.67,1760.6h1.73V1884.0h-1.73ZM1487.60,1852.5h1.73V1884.0h-1.73ZM1489.53,1845.3h1.73V1884.0h-1.73ZM1491.45,1719.4h1.73V1884.0h-1.73ZM1493.38,1726.7h1.73V1884.0h-1.73ZM1495.31,1738.8h1.73V1884.0h-1.73ZM1497.23,1622.6h1.73V1884.0h-1.73ZM1499.16,1593.6h1.73V1884.0h-1.73ZM1501.09,1683.1h1.73V1884.0h-1.73ZM1503.01,1571.8h1.73V1884.0h-1.73ZM1504.94,1736.4h1.73V1884.0h-1.73ZM1506.87,1692.8h1.73V1884.0h-1.73ZM1508.79,1721.8h1.73V1884.0h-1.73ZM1510.72,1779.9h1.73V1884.0h-1.73ZM1512.65,1731.5h1.73V1884.0h-1.73ZM1514.57,1767.8h1.73V1884.0h-1.73ZM1516.50,1714.6h1.73V1884.0h-1.73ZM1518.43,1733.9h1.73V1884.0h-1.73ZM1520.35,1721.8h1.73V1884.0h-1.73ZM1522.28,1724.3h1.73V1884.0h-1.73ZM1524.21,1683.1h1.73V1884.0h-1.73ZM1526.13,1598.4h1.73V1884.0h-1.73ZM1528.06,1671.0h1.73V1884.0h-1.73ZM1529.99,1721.8h1.73V1884.0h-1.73ZM1531.91,1651.7h1.73V1884.0h-1.73ZM1533.84,1656.5h1.73V1884.0h-1.73ZM1535.77,1646.8h1.73V1884.0h-1.73ZM1537.69,1617.8h1.73V1884.0h-1.73ZM1539.62,1642.0h1.73V1884.0h-1.73ZM1541.55,1692.8h1.73V1884.0h-1.73ZM1543.47,1695.2h1.73V1884.0h-1.73ZM1545.40,1627.4h1.73V1884.0h-1.73ZM1547.33,1583.9h1.73V1884.0h-1.73ZM1549.25,1593.6h1.73V1884.0h-1.73ZM1551.18,1632.3h1.73V1884.0h-1.73ZM1553.11,1649.2h1.73V1884.0h-1.73ZM1555.03,1709.7h1.73V1884.0h-1.73ZM1556.96,1695.2h1.73V1884.0h-1.73ZM1558.89,1644.4h1.73V1884.0h-1.73ZM1560.81,1668.6h1.73V1884.0h-1.73ZM1562.74,1586.3h1.73V1884.0h-1.73ZM1564.67,1635.1h1.73V1884.0h-1.73ZM1566.59,1645.5h1.73V1884.0h-1.73ZM1568.52,1763.4h1.73V1884.0h-1.73ZM1570.45,1723.7h1.73V1884.0h-1.73ZM1572.37,1642.2h1.73V1884.0h-1.73ZM1574.30,1613.5h1.73V1884.0h-1.73ZM1576.23,1629.3h1.73V1884.0h-1.73ZM1578.15,1796.2h1.73V1884.0h-1.73ZM1580.08,1803.7h1.73V1884.0h-1.73ZM1582.01,1810.9h1.73V1884.0h-1.73ZM1583.93,1812.3h1.73V1884.0h-1.73ZM1585.86,1791.9h1.73V1884.0h-1.73ZM1587.79,1767.0h1.73V1884.0h-1.73ZM1589.72,1768.5h1.73V1884.0h-1.73ZM1591.64,1749.4h1.73V1884.0h-1.73ZM1593.57,1754.5h1.73V1884.0h-1.73ZM1595.50,1752.1h1.73V1884.0h-1.73ZM1597.42,1758.2h1.73V1884.0h-1.73ZM1599.35,1691.9h1.73V1884.0h-1.73ZM1601.28,1639.5h1.73V1884.0h-1.73ZM1603.20,1661.6h1.73V1884.0h-1.73ZM1605.13,1666.3h1.73V1884.0h-1.73ZM1607.06,1661.1h1.73V1884.0h-1.73ZM1608.98,1692.8h1.73V1884.0h-1.73ZM1610.91,1707.5h1.73V1884.0h-1.73ZM1612.84,1650.6h1.73V1884.0h-1.73ZM1614.76,1636.6h1.73V1884.0h-1.73ZM1616.69,1583.9h1.73V1884.0h-1.73ZM1618.62,1644.2h1.73V1884.0h-1.73ZM1620.54,1626.4h1.73V1884.0h-1.73ZM1622.47,1726.8h1.73V1884.0h-1.73ZM1624.40,1727.6h1.73V1884.0h-1.73ZM1626.32,1672.5h1.73V1884.0h-1.73ZM1628.25,1672.0h1.73V1884.0h-1.73ZM1630.18,1627.3h1.73V1884.0h-1.73ZM1632.10,1666.1h1.73V1884.0h-1.73ZM1634.03,1634.0h1.73V1884.0h-1.73ZM1635.96,1725.2h1.73V1884.0h-1.73ZM1637.88,1676.6h1.73V1884.0h-1.73ZM1639.81,1660.3h1.73V1884.0h-1.73ZM1641.74,1648.6h1.73V1884.0h-1.73ZM1643.66,1610.7h1.73V1884.0h-1.73ZM1645.59,1629.9h1.73V1884.0h-1.73ZM1647.52,1639.7h1.73V1884.0h-1.73ZM1649.44,1711.0h1.73V1884.0h-1.73ZM1651.37,1720.3h1.73V1884.0h-1.73ZM1653.30,1625.1h1.73V1884.0h-1.73ZM1655.22,1651.4h1.73V1884.0h-1.73ZM1657.15,1621.2h1.73V1884.0h-1.73ZM1659.08,1598.6h1.73V1884.0h-1.73ZM1661.00,1538.4h1.73V1884.0h-1.73ZM1662.93,1666.8h1.73V1884.0h-1.73ZM1664.86,1724.3h1.73V1884.0h-1.73ZM1666.78,1605.2h1.73V1884.0h-1.73ZM1668.71,1587.5h1.73V1884.0h-1.73ZM1670.64,1584.5h1.73V1884.0h-1.73ZM1672.56,1467.7h1.73V1884.0h-1.73ZM1674.49,1613.1h1.73V1884.0h-1.73ZM1676.42,1794.4h1.73V1884.0h-1.73ZM1678.34,1723.2h1.73V1884.0h-1.73ZM1680.27,1630.4h1.73V1884.0h-1.73ZM1682.20,1489.5h1.73V1884.0h-1.73ZM1684.12,1641.8h1.73V1884.0h-1.73ZM1686.05,1643.3h1.73V1884.0h-1.73ZM1687.98,1616.2h1.73V1884.0h-1.73ZM1689.91,1706.1h1.73V1884.0h-1.73ZM1691.83,1691.6h1.73V1884.0h-1.73ZM1693.76,1630.3h1.73V1884.0h-1.73ZM1695.69,1659.7h1.73V1884.0h-1.73ZM1697.61,1673.5h1.73V1884.0h-1.73ZM1699.54,1628.0h1.73V1884.0h-1.73ZM1701.47,1597.0h1.73V1884.0h-1.73ZM1703.39,1709.5h1.73V1884.0h-1.73ZM1705.32,1695.2h1.73V1884.0h-1.73ZM1707.25,1626.8h1.73V1884.0h-1.73ZM1709.17,1677.0h1.73V1884.0h-1.73ZM1711.10,1613.2h1.73V1884.0h-1.73ZM1713.03,1618.8h1.73V1884.0h-1.73ZM1714.95,1644.7h1.73V1884.0h-1.73ZM1716.88,1673.6h1.73V1884.0h-1.73ZM1718.81,1699.8h1.73V1884.0h-1.73ZM1720.73,1554.8h1.73V1884.0h-1.73ZM1722.66,1618.1h1.73V1884.0h-1.73ZM1724.59,1585.5h1.73V1884.0h-1.73ZM1726.51,1596.3h1.73V1884.0h-1.73ZM1728.44,1610.1h1.73V1884.0h-1.73ZM1730.37,1701.7h1.73V1884.0h-1.73ZM1732.29,1705.5h1.73V1884.0h-1.73ZM1734.22,1674.9h1.73V1884.0h-1.73ZM1736.15,1637.6h1.73V1884.0h-1.73ZM1738.07,1649.6h1.73V1884.0h-1.73ZM1740.00,1591.6h1.73V1884.0h-1.73ZM1741.93,1624.5h1.73V1884.0h-1.73ZM1743.85,1702.6h1.73V1884.0h-1.73ZM1745.78,1694.7h1.73V1884.0h-1.73ZM1747.71,1610.0h1.73V1884.0h-1.73ZM1749.63,1593.6h1.73V1884.0h-1.73ZM1751.56,1526.7h1.73V1884.0h-1.73ZM1753.49,1579.1h1.73V1884.0h-1.73ZM1755.41,1565.4h1.73V1884.0h-1.73ZM1757.34,1664.2h1.73V1884.0h-1.73ZM1759.27,1491.9h1.73V1884.0h-1.73ZM1761.19,1533.6h1.73V1884.0h-1.73ZM1763.12,1558.0h1.73V1884.0h-1.73ZM1765.05,1575.3h1.73V1884.0h-1.73ZM1766.97,1566.7h1.73V1884.0h-1.73ZM1768.90,1570.4h1.73V1884.0h-1.73ZM1770.83,1684.8h1.73V1884.0h-1.73ZM1772.75,1659.8h1.73V1884.0h-1.73ZM1774.68,1517.3h1.73V1884.0h-1.73ZM1776.61,1500.9h1.73V1884.0h-1.73ZM1778.53,1503.2h1.73V1884.0h-1.73ZM1780.46,1436.2h1.73V1884.0h-1.73ZM1782.39,1476.0h1.73V1884.0h-1.73ZM1784.31,1669.4h1.73V1884.0h-1.73ZM1786.24,1618.0h1.73V1884.0h-1.73ZM1788.17,1562.7h1.73V1884.0h-1.73ZM1790.09,1481.0h1.73V1884.0h-1.73ZM1792.02,1458.0h1.73V1884.0h-1.73ZM1793.95,1551.2h1.73V1884.0h-1.73ZM1795.88,1515.4h1.73V1884.0h-1.73ZM1797.80,1603.3h1.73V1884.0h-1.73ZM1799.73,1605.2h1.73V1884.0h-1.73ZM1801.66,1505.1h1.73V1884.0h-1.73ZM1803.58,1477.4h1.73V1884.0h-1.73ZM1805.51,1537.8h1.73V1884.0h-1.73ZM1807.44,1564.7h1.73V1884.0h-1.73ZM1809.36,1543.9h1.73V1884.0h-1.73ZM1811.29,1617.1h1.73V1884.0h-1.73ZM1813.22,1617.0h1.73V1884.0h-1.73ZM1815.14,1498.6h1.73V1884.0h-1.73ZM1817.07,1515.0h1.73V1884.0h-1.73ZM1819.00,1486.0h1.73V1884.0h-1.73ZM1820.92,1530.8h1.73V1884.0h-1.73ZM1822.85,1507.7h1.73V1884.0h-1.73ZM1824.78,1666.2h1.73V1884.0h-1.73ZM1826.70,1648.3h1.73V1884.0h-1.73ZM1828.63,1501.7h1.73V1884.0h-1.73ZM1830.56,1414.0h1.73V1884.0h-1.73ZM1832.48,1474.9h1.73V1884.0h-1.73ZM1834.41,1337.0h1.73V1884.0h-1.73ZM1836.34,1443.4h1.73V1884.0h-1.73ZM1838.26,1611.8h1.73V1884.0h-1.73ZM1840.19,1664.1h1.73V1884.0h-1.73ZM1842.12,1491.9h1.73V1884.0h-1.73ZM1844.04,1448.9h1.73V1884.0h-1.73ZM1845.97,1543.7h1.73V1884.0h-1.73ZM1847.90,1435.0h1.73V1884.0h-1.73ZM1849.82,1479.8h1.73V1884.0h-1.73ZM1851.75,1621.6h1.73V1884.0h-1.73ZM1853.68,1626.2h1.73V1884.0h-1.73ZM1855.60,1499.0h1.73V1884.0h-1.73ZM1857.53,1490.0h1.73V1884.0h-1.73ZM1859.46,1407.8h1.73V1884.0h-1.73ZM1861.38,1482.0h1.73V1884.0h-1.73ZM1863.31,1462.1h1.73V1884.0h-1.73ZM1865.24,1643.1h1.73V1884.0h-1.73ZM1867.16,1648.4h1.73V1884.0h-1.73ZM1869.09,1488.7h1.73V1884.0h-1.73ZM1871.02,1496.4h1.73V1884.0h-1.73ZM1872.94,1406.0h1.73V1884.0h-1.73ZM1874.87,1515.2h1.73V1884.0h-1.73ZM1876.80,1434.0h1.73V1884.0h-1.73ZM1878.72,1643.3h1.73V1884.0h-1.73ZM1880.65,1577.9h1.73V1884.0h-1.73ZM1882.58,1510.9h1.73V1884.0h-1.73ZM1884.50,1519.3h1.73V1884.0h-1.73ZM1886.43,1498.9h1.73V1884.0h-1.73ZM1888.36,1479.9h1.73V1884.0h-1.73ZM1890.28,1515.1h1.73V1884.0h-1.73ZM1892.21,1582.1h1.73V1884.0h-1.73ZM1894.14,1571.6h1.73V1884.0h-1.73ZM1896.07,1486.9h1.73V1884.0h-1.73ZM1897.99,1485.0h1.73V1884.0h-1.73ZM1899.92,1474.1h1.73V1884.0h-1.73ZM1901.85,1453.0h1.73V1884.0h-1.73ZM1903.77,1471.2h1.73V1884.0h-1.73ZM1905.70,1619.7h1.73V1884.0h-1.73ZM1907.63,1641.8h1.73V1884.0h-1.73ZM1909.55,1531.4h1.73V1884.0h-1.73ZM1911.48,1492.6h1.73V1884.0h-1.73ZM1913.41,1464.0h1.73V1884.0h-1.73ZM1915.33,1478.8h1.73V1884.0h-1.73ZM1917.26,1422.7h1.73V1884.0h-1.73ZM1919.19,1554.4h1.73V1884.0h-1.73ZM1921.11,1572.9h1.73V1884.0h-1.73ZM1923.04,1415.8h1.73V1884.0h-1.73ZM1924.97,1439.7h1.73V1884.0h-1.73ZM1926.89,1507.7h1.73V1884.0h-1.73ZM1928.82,1315.2h1.73V1884.0h-1.73ZM1930.75,1512.6h1.73V1884.0h-1.73ZM1932.67,1536.6h1.73V1884.0h-1.73ZM1934.60,1622.5h1.73V1884.0h-1.73ZM1936.53,1479.6h1.73V1884.0h-1.73ZM1938.45,1435.8h1.73V1884.0h-1.73ZM1940.38,1488.3h1.73V1884.0h-1.73ZM1942.31,1483.6h1.73V1884.0h-1.73ZM1944.23,1473.1h1.73V1884.0h-1.73ZM1946.16,1614.5h1.73V1884.0h-1.73ZM1948.09,1614.5h1.73V1884.0h-1.73ZM1950.01,1590.3h1.73V1884.0h-1.73ZM1951.94,1618.9h1.73V1884.0h-1.73ZM1953.87,1625.5h1.73V1884.0h-1.73ZM1955.79,1625.0h1.73V1884.0h-1.73ZM1957.72,1596.0h1.73V1884.0h-1.73ZM1959.65,1602.3h1.73V1884.0h-1.73ZM1961.57,1614.6h1.73V1884.0h-1.73ZM1963.50,1483.7h1.73V1884.0h-1.73ZM1965.43,1413.0h1.73V1884.0h-1.73ZM1967.35,1465.5h1.73V1884.0h-1.73ZM1969.28,1452.5h1.73V1884.0h-1.73ZM1971.21,1472.8h1.73V1884.0h-1.73ZM1973.13,1619.4h1.73V1884.0h-1.73ZM1975.06,1594.6h1.73V1884.0h-1.73ZM1976.99,1495.2h1.73V1884.0h-1.73ZM1978.91,1438.0h1.73V1884.0h-1.73ZM1980.84,1484.1h1.73V1884.0h-1.73ZM1982.77,1479.9h1.73V1884.0h-1.73ZM1984.69,1457.1h1.73V1884.0h-1.73ZM1986.62,1514.4h1.73V1884.0h-1.73ZM1988.55,1525.7h1.73V1884.0h-1.73ZM1990.47,1496.9h1.73V1884.0h-1.73ZM1992.40,1425.3h1.73V1884.0h-1.73ZM1994.33,1408.0h1.73V1884.0h-1.73ZM1996.26,1407.3h1.73V1884.0h-1.73ZM1998.18,1350.1h1.73V1884.0h-1.73ZM2000.11,1511.4h1.73V1884.0h-1.73ZM2002.04,1594.2h1.73V1884.0h-1.73ZM2003.96,1447.8h1.73V1884.0h-1.73ZM2005.89,1329.2h1.73V1884.0h-1.73ZM2007.82,1366.5h1.73V1884.0h-1.73ZM2009.74,1390.3h1.73V1884.0h-1.73ZM2011.67,1443.9h1.73V1884.0h-1.73ZM2013.60,1533.1h1.73V1884.0h-1.73ZM2015.52,1315.2h1.73V1884.0h-1.73ZM2017.45,1201.5h1.73V1884.0h-1.73ZM2019.38,1182.1h1.73V1884.0h-1.73ZM2021.30,1249.9h1.73V1884.0h-1.73ZM2023.23,1278.9h1.73V1884.0h-1.73ZM2025.16,1434.4h1.73V1884.0h-1.73ZM2027.08,1578.2h1.73V1884.0h-1.73ZM2029.01,1597.0h1.73V1884.0h-1.73ZM2030.94,1439.8h1.73V1884.0h-1.73ZM2032.86,1379.1h1.73V1884.0h-1.73ZM2034.79,1353.7h1.73V1884.0h-1.73ZM2036.72,1375.4h1.73V1884.0h-1.73ZM2038.64,1405.4h1.73V1884.0h-1.73ZM2040.57,1512.1h1.73V1884.0h-1.73ZM2042.50,1541.1h1.73V1884.0h-1.73ZM2044.42,1434.8h1.73V1884.0h-1.73ZM2046.35,1347.1h1.73V1884.0h-1.73ZM2048.28,1402.7h1.73V1884.0h-1.73ZM2050.20,1312.8h1.73V1884.0h-1.73ZM2052.13,1432.1h1.73V1884.0h-1.73ZM2054.06,1581.3h1.73V1884.0h-1.73ZM2055.98,1571.5h1.73V1884.0h-1.73ZM2057.91,1409.2h1.73V1884.0h-1.73ZM2059.84,1336.2h1.73V1884.0h-1.73ZM2061.76,1407.7h1.73V1884.0h-1.73ZM2063.69,1393.1h1.73V1884.0h-1.73ZM2065.62,1403.7h1.73V1884.0h-1.73ZM2067.54,1592.8h1.73V1884.0h-1.73ZM2069.47,1529.8h1.73V1884.0h-1.73ZM2071.40,1305.6h1.73V1884.0h-1.73ZM2073.32,1408.5h1.73V1884.0h-1.73ZM2075.25,1377.2h1.73V1884.0h-1.73ZM2077.18,1305.0h1.73V1884.0h-1.73ZM2079.10,1473.9h1.73V1884.0h-1.73ZM2081.03,1502.8h1.73V1884.0h-1.73ZM2082.96,1599.8h1.73V1884.0h-1.73ZM2084.88,1448.7h1.73V1884.0h-1.73ZM2086.81,1312.2h1.73V1884.0h-1.73ZM2088.74,1296.4h1.73V1884.0h-1.73ZM2090.66,1386.8h1.73V1884.0h-1.73ZM2092.59,1304.1h1.73V1884.0h-1.73ZM2094.52,1527.0h1.73V1884.0h-1.73ZM2096.45,1610.9h1.73V1884.0h-1.73ZM2098.37,1378.9h1.73V1884.0h-1.73ZM2100.30,1385.0h1.73V1884.0h-1.73ZM2102.23,1429.5h1.73V1884.0h-1.73ZM2104.15,1381.7h1.73V1884.0h-1.73ZM2106.08,1412.5h1.73V1884.0h-1.73ZM2108.01,1498.8h1.73V1884.0h-1.73ZM2109.93,1586.6h1.73V1884.0h-1.73ZM2111.86,1303.7h1.73V1884.0h-1.73ZM2113.79,1349.6h1.73V1884.0h-1.73ZM2115.71,1424.5h1.73V1884.0h-1.73ZM2117.64,1367.8h1.73V1884.0h-1.73ZM2119.57,1255.3h1.73V1884.0h-1.73ZM2121.49,1585.1h1.73V1884.0h-1.73ZM2123.42,1531.6h1.73V1884.0h-1.73ZM2125.35,1250.0h1.73V1884.0h-1.73ZM2127.27,1435.8h1.73V1884.0h-1.73ZM2129.20,1320.8h1.73V1884.0h-1.73ZM2131.13,1215.4h1.73V1884.0h-1.73ZM2133.05,1310.3h1.73V1884.0h-1.73ZM2134.98,1440.4h1.73V1884.0h-1.73ZM2136.91,1218.4h1.73V1884.0h-1.73ZM2138.83,1226.0h1.73V1884.0h-1.73ZM2140.76,1293.6h1.73V1884.0h-1.73ZM2142.69,1275.6h1.73V1884.0h-1.73ZM2144.61,1194.2h1.73V1884.0h-1.73ZM2146.54,1341.4h1.73V1884.0h-1.73ZM2148.47,1431.2h1.73V1884.0h-1.73ZM2150.39,1430.3h1.73V1884.0h-1.73ZM2152.32,1279.5h1.73V1884.0h-1.73ZM2154.25,1138.5h1.73V1884.0h-1.73ZM2156.17,1290.2h1.73V1884.0h-1.73ZM2158.10,1196.0h1.73V1884.0h-1.73ZM2160.03,1230.5h1.73V1884.0h-1.73ZM2161.95,1471.8h1.73V1884.0h-1.73ZM2163.88,1510.5h1.73V1884.0h-1.73ZM2165.81,1258.0h1.73V1884.0h-1.73ZM2167.73,1305.5h1.73V1884.0h-1.73ZM2169.66,1192.5h1.73V1884.0h-1.73ZM2171.59,1313.7h1.73V1884.0h-1.73ZM2173.51,1366.9h1.73V1884.0h-1.73ZM2175.44,1436.3h1.73V1884.0h-1.73ZM2177.37,1456.2h1.73V1884.0h-1.73ZM2179.29,1300.2h1.73V1884.0h-1.73ZM2181.22,1362.4h1.73V1884.0h-1.73ZM2183.15,1281.3h1.73V1884.0h-1.73ZM2185.07,1291.3h1.73V1884.0h-1.73ZM2187.00,1429.2h1.73V1884.0h-1.73ZM2188.93,1652.1h1.73V1884.0h-1.73ZM2190.85,1655.8h1.73V1884.0h-1.73ZM2192.78,1667.3h1.73V1884.0h-1.73ZM2194.71,1656.5h1.73V1884.0h-1.73ZM2196.64,1651.5h1.73V1884.0h-1.73ZM2198.56,1662.4h1.73V1884.0h-1.73ZM2200.49,1659.5h1.73V1884.0h-1.73ZM2202.42,1703.9h1.73V1884.0h-1.73ZM2204.34,1628.5h1.73V1884.0h-1.73ZM2206.27,1538.9h1.73V1884.0h-1.73ZM2208.20,1412.4h1.73V1884.0h-1.73ZM2210.12,1469.1h1.73V1884.0h-1.73ZM2212.05,1418.2h1.73V1884.0h-1.73ZM2213.98,1481.0h1.73V1884.0h-1.73ZM2215.90,1613.3h1.73V1884.0h-1.73ZM2217.83,1579.0h1.73V1884.0h-1.73ZM2219.76,1380.0h1.73V1884.0h-1.73ZM2221.68,1539.5h1.73V1884.0h-1.73ZM2223.61,1369.2h1.73V1884.0h-1.73ZM2225.54,1372.4h1.73V1884.0h-1.73ZM2227.46,1378.2h1.73V1884.0h-1.73ZM2229.39,1612.4h1.73V1884.0h-1.73ZM2231.32,1630.7h1.73V1884.0h-1.73ZM2233.24,1362.9h1.73V1884.0h-1.73ZM2235.17,1472.4h1.73V1884.0h-1.73ZM2237.10,1429.9h1.73V1884.0h-1.73ZM2239.02,1513.7h1.73V1884.0h-1.73ZM2240.95,1391.3h1.73V1884.0h-1.73ZM2242.88,1633.6h1.73V1884.0h-1.73ZM2244.80,1652.5h1.73V1884.0h-1.73ZM2246.73,1381.7h1.73V1884.0h-1.73ZM2248.66,1425.7h1.73V1884.0h-1.73ZM2250.58,1362.8h1.73V1884.0h-1.73ZM2252.51,1453.4h1.73V1884.0h-1.73ZM2254.44,1467.4h1.73V1884.0h-1.73ZM2256.36,1586.1h1.73V1884.0h-1.73ZM2258.29,1641.5h1.73V1884.0h-1.73ZM2260.22,1364.9h1.73V1884.0h-1.73ZM2262.14,1416.1h1.73V1884.0h-1.73ZM2264.07,1327.2h1.73V1884.0h-1.73ZM2266.00,1375.4h1.73V1884.0h-1.73ZM2267.92,1393.0h1.73V1884.0h-1.73ZM2269.85,1559.1h1.73V1884.0h-1.73ZM2271.78,1544.9h1.73V1884.0h-1.73ZM2273.70,1416.1h1.73V1884.0h-1.73ZM2275.63,1413.4h1.73V1884.0h-1.73ZM2277.56,1467.1h1.73V1884.0h-1.73ZM2279.48,1249.9h1.73V1884.0h-1.73ZM2281.41,1373.3h1.73V1884.0h-1.73ZM2283.34,1278.9h1.73V1884.0h-1.73ZM2285.26,1643.4h1.73V1884.0h-1.73ZM2287.19,1342.9h1.73V1884.0h-1.73ZM2289.12,1416.2h1.73V1884.0h-1.73ZM2291.04,1375.7h1.73V1884.0h-1.73ZM2292.97,1404.8h1.73V1884.0h-1.73ZM2294.90,1351.1h1.73V1884.0h-1.73ZM2296.82,1544.7h1.73V1884.0h-1.73ZM2298.75,1266.8h1.73V1884.0h-1.73ZM2300.68,1307.0h1.73V1884.0h-1.73ZM2302.61,1391.6h1.73V1884.0h-1.73ZM2304.53,1379.5h1.73V1884.0h-1.73ZM2306.46,1411.4h1.73V1884.0h-1.73ZM2308.39,1364.6h1.73V1884.0h-1.73ZM2310.31,1548.0h1.73V1884.0h-1.73ZM2312.24,1578.1h1.73V1884.0h-1.73ZM2314.17,1396.0h1.73V1884.0h-1.73ZM2316.09,1387.3h1.73V1884.0h-1.73ZM2318.02,1299.9h1.73V1884.0h-1.73ZM2319.95,1392.5h1.73V1884.0h-1.73ZM2321.87,1362.1h1.73V1884.0h-1.73ZM2323.80,1590.5h1.73V1884.0h-1.73ZM2325.73,1604.8h1.73V1884.0h-1.73ZM2327.65,1413.5h1.73V1884.0h-1.73ZM2329.58,1411.8h1.73V1884.0h-1.73ZM2331.51,1311.4h1.73V1884.0h-1.73ZM2333.43,1494.0h1.73V1884.0h-1.73ZM2335.36,1340.2h1.73V1884.0h-1.73ZM2337.29,1581.0h1.73V1884.0h-1.73ZM2339.21,1614.6h1.73V1884.0h-1.73ZM2341.14,1335.2h1.73V1884.0h-1.73ZM2343.07,1324.4h1.73V1884.0h-1.73ZM2344.99,1355.2h1.73V1884.0h-1.73ZM2346.92,1445.3h1.73V1884.0h-1.73ZM2348.85,1309.3h1.73V1884.0h-1.73ZM2350.77,1567.1h1.73V1884.0h-1.73ZM2352.70,1601.4h1.73V1884.0h-1.73ZM2354.63,1349.7h1.73V1884.0h-1.73ZM2356.55,1454.7h1.73V1884.0h-1.73ZM2358.48,1444.8h1.73V1884.0h-1.73ZM2360.41,1501.5h1.73V1884.0h-1.73ZM2362.33,1306.4h1.73V1884.0h-1.73ZM2364.26,1603.2h1.73V1884.0h-1.73ZM2366.19,1650.1h1.73V1884.0h-1.73ZM2368.11,1361.7h1.73V1884.0h-1.73ZM2370.04,1395.1h1.73V1884.0h-1.73ZM2371.97,1232.9h1.73V1884.0h-1.73ZM2373.89,1298.0h1.73V1884.0h-1.73ZM2375.82,1254.7h1.73V1884.0h-1.73ZM2377.75,1607.6h1.73V1884.0h-1.73ZM2379.67,1561.6h1.73V1884.0h-1.73ZM2381.60,1387.5h1.73V1884.0h-1.73ZM2383.53,1266.8h1.73V1884.0h-1.73ZM2385.45,1412.2h1.73V1884.0h-1.73ZM2387.38,1281.5h1.73V1884.0h-1.73ZM2389.31,1292.3h1.73V1884.0h-1.73ZM2391.23,1643.5h1.73V1884.0h-1.73ZM2393.16,1608.2h1.73V1884.0h-1.73ZM2395.09,1269.2h1.73V1884.0h-1.73ZM2397.01,1333.9h1.73V1884.0h-1.73ZM2398.94,1400.5h1.73V1884.0h-1.73ZM2400.87,1382.1h1.73V1884.0h-1.73ZM2402.80,1306.9h1.73V1884.0h-1.73ZM2404.72,1570.7h1.73V1884.0h-1.73ZM2406.65,1642.5h1.73V1884.0h-1.73ZM2408.58,1386.4h1.73V1884.0h-1.73ZM2410.50,1310.5h1.73V1884.0h-1.73ZM2412.43,1275.6h1.73V1884.0h-1.73ZM2414.36,1317.3h1.73V1884.0h-1.73ZM2416.28,1385.6h1.73V1884.0h-1.73ZM2418.21,1562.8h1.73V1884.0h-1.73ZM2420.14,1598.6h1.73V1884.0h-1.73ZM2422.06,1283.0h1.73V1884.0h-1.73ZM2423.99,1254.2h1.73V1884.0h-1.73ZM2425.92,1345.4h1.73V1884.0h-1.73ZM2427.84,1332.8h1.73V1884.0h-1.73ZM2429.77,1288.1h1.73V1884.0h-1.73ZM2431.70,1656.6h1.73V1884.0h-1.73ZM2433.62,1581.9h1.73V1884.0h-1.73ZM2435.55,1303.2h1.73V1884.0h-1.73ZM2437.48,1311.3h1.73V1884.0h-1.73ZM2439.40,1271.7h1.73V1884.0h-1.73ZM2441.33,1488.5h1.73V1884.0h-1.73ZM2443.26,1334.9h1.73V1884.0h-1.73ZM2445.18,1614.7h1.73V1884.0h-1.73ZM2447.11,1578.4h1.73V1884.0h-1.73ZM2449.04,1423.6h1.73V1884.0h-1.73ZM2450.96,1463.4h1.73V1884.0h-1.73ZM2452.89,1481.0h1.73V1884.0h-1.73ZM2454.82,1314.2h1.73V1884.0h-1.73ZM2456.74,1309.6h1.73V1884.0h-1.73ZM2458.67,1621.7h1.73V1884.0h-1.73ZM2460.60,1654.4h1.73V1884.0h-1.73ZM2462.52,1266.8h1.73V1884.0h-1.73ZM2464.45,1429.3h1.73V1884.0h-1.73ZM2466.38,1288.5h1.73V1884.0h-1.73ZM2468.30,1363.8h1.73V1884.0h-1.73ZM2470.23,1440.6h1.73V1884.0h-1.73ZM2472.16,1636.7h1.73V1884.0h-1.73ZM2474.08,1609.5h1.73V1884.0h-1.73ZM2476.01,1268.2h1.73V1884.0h-1.73ZM2477.94,1367.8h1.73V1884.0h-1.73ZM2479.86,1415.4h1.73V1884.0h-1.73ZM2481.79,1417.5h1.73V1884.0h-1.73ZM2483.72,1494.1h1.73V1884.0h-1.73ZM2485.64,1712.3h1.73V1884.0h-1.73ZM2487.57,1755.0h1.73V1884.0h-1.73ZM2489.50,1395.4h1.73V1884.0h-1.73ZM2491.42,1555.5h1.73V1884.0h-1.73ZM2493.35,1431.3h1.73V1884.0h-1.73ZM2495.28,1485.2h1.73V1884.0h-1.73ZM2497.20,1471.7h1.73V1884.0h-1.73ZM2499.13,1751.5h1.73V1884.0h-1.73ZM2501.06,1703.5h1.73V1884.0h-1.73ZM2502.99,1427.1h1.73V1884.0h-1.73ZM2504.91,1544.6h1.73V1884.0h-1.73ZM2506.84,1425.8h1.73V1884.0h-1.73ZM2508.77,1484.6h1.73V1884.0h-1.73ZM2510.69,1612.3h1.73V1884.0h-1.73ZM2512.62,1733.4h1.73V1884.0h-1.73ZM2514.55,1709.2h1.73V1884.0h-1.73ZM2516.47,1418.2h1.73V1884.0h-1.73ZM2518.40,1483.0h1.73V1884.0h-1.73ZM2520.33,1464.4h1.73V1884.0h-1.73ZM2522.25,1454.9h1.73V1884.0h-1.73ZM2524.18,1442.0h1.73V1884.0h-1.73ZM2526.11,1696.7h1.73V1884.0h-1.73ZM2528.03,1739.8h1.73V1884.0h-1.73ZM2529.96,1512.4h1.73V1884.0h-1.73ZM2531.89,1488.2h1.73V1884.0h-1.73ZM2533.81,1409.9h1.73V1884.0h-1.73ZM2535.74,1478.7h1.73V1884.0h-1.73ZM2537.67,1478.7h1.73V1884.0h-1.73ZM2539.59,1738.6h1.73V1884.0h-1.73ZM2541.52,1700.1h1.73V1884.0h-1.73ZM2543.45,1439.3h1.73V1884.0h-1.73ZM2545.37,1408.0h1.73V1884.0h-1.73ZM2547.30,1423.7h1.73V1884.0h-1.73ZM2549.23,1422.0h1.73V1884.0h-1.73ZM2551.15,1437.0h1.73V1884.0h-1.73ZM2553.08,1719.5h1.73V1884.0h-1.73ZM2555.01,1734.6h1.73V1884.0h-1.73ZM2556.93,1449.1h1.73V1884.0h-1.73ZM2558.86,1606.0h1.73V1884.0h-1.73ZM2560.79,1533.0h1.73V1884.0h-1.73ZM2562.71,1502.7h1.73V1884.0h-1.73ZM2564.64,1555.3h1.73V1884.0h-1.73ZM2566.57,1715.8h1.73V1884.0h-1.73ZM2568.49,1712.2h1.73V1884.0h-1.73ZM2570.42,1512.0h1.73V1884.0h-1.73ZM2572.35,1479.7h1.73V1884.0h-1.73ZM2574.27,1430.2h1.73V1884.0h-1.73ZM2576.20,1512.8h1.73V1884.0h-1.73ZM2578.13,1420.4h1.73V1884.0h-1.73ZM2580.05,1697.9h1.73V1884.0h-1.73ZM2581.98,1746.2h1.73V1884.0h-1.73ZM2583.91,1508.8h1.73V1884.0h-1.73ZM2585.83,1546.0h1.73V1884.0h-1.73ZM2587.76,1431.7h1.73V1884.0h-1.73ZM2589.69,1490.5h1.73V1884.0h-1.73ZM2591.61,1551.6h1.73V1884.0h-1.73ZM2593.54,1740.5h1.73V1884.0h-1.73ZM2595.47,1734.0h1.73V1884.0h-1.73ZM2597.39,1520.4h1.73V1884.0h-1.73ZM2599.32,1492.3h1.73V1884.0h-1.73ZM2601.25,1483.3h1.73V1884.0h-1.73ZM2603.18,1419.1h1.73V1884.0h-1.73ZM2605.10,1431.6h1.73V1884.0h-1.73ZM2607.03,1716.7h1.73V1884.0h-1.73ZM2608.96,1750.6h1.73V1884.0h-1.73ZM2610.88,1477.3h1.73V1884.0h-1.73ZM2612.81,1487.2h1.73V1884.0h-1.73ZM2614.74,1466.9h1.73V1884.0h-1.73ZM2616.66,1432.3h1.73V1884.0h-1.73ZM2618.59,1607.9h1.73V1884.0h-1.73ZM2620.52,1752.3h1.73V1884.0h-1.73ZM2622.44,1740.4h1.73V1884.0h-1.73ZM2624.37,1420.2h1.73V1884.0h-1.73ZM2626.30,1576.1h1.73V1884.0h-1.73ZM2628.22,1504.7h1.73V1884.0h-1.73ZM2630.15,1486.8h1.73V1884.0h-1.73ZM2632.08,1495.7h1.73V1884.0h-1.73ZM2634.00,1685.0h1.73V1884.0h-1.73ZM2635.93,1724.0h1.73V1884.0h-1.73ZM2637.86,1446.9h1.73V1884.0h-1.73ZM2639.78,1510.5h1.73V1884.0h-1.73ZM2641.71,1513.2h1.73V1884.0h-1.73ZM2643.64,1445.8h1.73V1884.0h-1.73ZM2645.56,1452.9h1.73V1884.0h-1.73ZM2647.49,1709.2h1.73V1884.0h-1.73ZM2649.42,1704.4h1.73V1884.0h-1.73ZM2651.34,1422.9h1.73V1884.0h-1.73ZM2653.27,1710.9h1.73V1884.0h-1.73ZM2655.20,1779.5h1.73V1884.0h-1.73ZM2657.12,1772.6h1.73V1884.0h-1.73ZM2659.05,1761.5h1.73V1884.0h-1.73ZM2660.98,1798.6h1.73V1884.0h-1.73ZM2662.90,1790.9h1.73V1884.0h-1.73ZM2664.83,1719.6h1.73V1884.0h-1.73ZM2666.76,1601.0h1.73V1884.0h-1.73ZM2668.68,1510.7h1.73V1884.0h-1.73ZM2670.61,1426.3h1.73V1884.0h-1.73ZM2672.54,1435.3h1.73V1884.0h-1.73ZM2674.46,1679.6h1.73V1884.0h-1.73ZM2676.39,1658.6h1.73V1884.0h-1.73ZM2678.32,1447.1h1.73V1884.0h-1.73ZM2680.24,1493.2h1.73V1884.0h-1.73ZM2682.17,1486.8h1.73V1884.0h-1.73ZM2684.10,1427.1h1.73V1884.0h-1.73ZM2686.02,1487.4h1.73V1884.0h-1.73ZM2687.95,1689.8h1.73V1884.0h-1.73ZM2689.88,1683.8h1.73V1884.0h-1.73ZM2691.80,1439.6h1.73V1884.0h-1.73ZM2693.73,1460.1h1.73V1884.0h-1.73ZM2695.66,1383.0h1.73V1884.0h-1.73ZM2697.58,1482.8h1.73V1884.0h-1.73ZM2699.51,1481.0h1.73V1884.0h-1.73ZM2701.44,1681.5h1.73V1884.0h-1.73ZM2703.37,1637.8h1.73V1884.0h-1.73ZM2705.29,1400.7h1.73V1884.0h-1.73ZM2707.22,1463.4h1.73V1884.0h-1.73ZM2709.15,1473.5h1.73V1884.0h-1.73ZM2711.07,1439.4h1.73V1884.0h-1.73ZM2713.00,1496.9h1.73V1884.0h-1.73ZM2714.93,1661.0h1.73V1884.0h-1.73ZM2716.85,1675.2h1.73V1884.0h-1.73ZM2718.78,1428.2h1.73V1884.0h-1.73ZM2720.71,1536.6h1.73V1884.0h-1.73ZM2722.63,1373.6h1.73V1884.0h-1.73ZM2724.56,1413.2h1.73V1884.0h-1.73ZM2726.49,1431.1h1.73V1884.0h-1.73ZM2728.41,1694.5h1.73V1884.0h-1.73ZM2730.34,1657.1h1.73V1884.0h-1.73ZM2732.27,1386.7h1.73V1884.0h-1.73ZM2734.19,1376.6h1.73V1884.0h-1.73ZM2736.12,1401.5h1.73V1884.0h-1.73ZM2738.05,1440.9h1.73V1884.0h-1.73ZM2739.97,1466.5h1.73V1884.0h-1.73ZM2741.90,1678.8h1.73V1884.0h-1.73ZM2743.83,1651.1h1.73V1884.0h-1.73ZM2745.75,1400.1h1.73V1884.0h-1.73ZM2747.68,1424.7h1.73V1884.0h-1.73ZM2749.61,1399.9h1.73V1884.0h-1.73ZM2751.53,1392.7h1.73V1884.0h-1.73ZM2753.46,1452.5h1.73V1884.0h-1.73ZM2755.39,1659.5h1.73V1884.0h-1.73ZM2757.31,1649.9h1.73V1884.0h-1.73ZM2759.24,1412.7h1.73V1884.0h-1.73ZM2761.17,1460.1h1.73V1884.0h-1.73ZM2763.09,1436.0h1.73V1884.0h-1.73ZM2765.02,1325.5h1.73V1884.0h-1.73ZM2766.95,1426.8h1.73V1884.0h-1.73ZM2768.87,1664.2h1.73V1884.0h-1.73ZM2770.80,1666.6h1.73V1884.0h-1.73ZM2772.73,1343.6h1.73V1884.0h-1.73ZM2774.65,1291.4h1.73V1884.0h-1.73ZM2776.58,1350.2h1.73V1884.0h-1.73ZM2778.51,1377.9h1.73V1884.0h-1.73ZM2780.43,1351.0h1.73V1884.0h-1.73ZM2782.36,1648.3h1.73V1884.0h-1.73ZM2784.29,1697.6h1.73V1884.0h-1.73ZM2786.21,1353.9h1.73V1884.0h-1.73ZM2788.14,1485.7h1.73V1884.0h-1.73ZM2790.07,1482.6h1.73V1884.0h-1.73ZM2791.99,1351.9h1.73V1884.0h-1.73ZM2793.92,1369.5h1.73V1884.0h-1.73ZM2795.85,1648.4h1.73V1884.0h-1.73ZM2797.77,1632.8h1.73V1884.0h-1.73ZM2799.70,1368.2h1.73V1884.0h-1.73ZM2801.63,1343.4h1.73V1884.0h-1.73ZM2803.55,1381.8h1.73V1884.0h-1.73ZM2805.48,1283.5h1.73V1884.0h-1.73ZM2807.41,1333.1h1.73V1884.0h-1.73ZM2809.34,1662.1h1.73V1884.0h-1.73ZM2811.26,1688.3h1.73V1884.0h-1.73ZM2813.19,1350.8h1.73V1884.0h-1.73ZM2815.12,1283.8h1.73V1884.0h-1.73ZM2817.04,1334.8h1.73V1884.0h-1.73ZM2818.97,1323.5h1.73V1884.0h-1.73ZM2820.90,1490.0h1.73V1884.0h-1.73ZM2822.82,1639.6h1.73V1884.0h-1.73ZM2824.75,1685.0h1.73V1884.0h-1.73ZM2826.68,1058.7h1.73V1884.0h-1.73ZM2828.60,1377.2h1.73V1884.0h-1.73ZM2830.53,1499.8h1.73V1884.0h-1.73ZM2832.46,1361.1h1.73V1884.0h-1.73ZM2834.38,1343.2h1.73V1884.0h-1.73ZM2836.31,1656.2h1.73V1884.0h-1.73ZM2838.24,1654.5h1.73V1884.0h-1.73ZM2840.16,1272.3h1.73V1884.0h-1.73ZM2842.09,1397.7h1.73V1884.0h-1.73ZM2844.02,1276.3h1.73V1884.0h-1.73ZM2845.94,1386.3h1.73V1884.0h-1.73ZM2847.87,1316.0h1.73V1884.0h-1.73ZM2849.80,1704.7h1.73V1884.0h-1.73ZM2851.72,1705.0h1.73V1884.0h-1.73ZM2853.65,1313.7h1.73V1884.0h-1.73ZM2855.58,1393.2h1.73V1884.0h-1.73ZM2857.50,1441.3h1.73V1884.0h-1.73ZM2859.43,1386.5h1.73V1884.0h-1.73ZM2861.36,1295.6h1.73V1884.0h-1.73ZM2863.28,1692.8h1.73V1884.0h-1.73ZM2865.21,1636.4h1.73V1884.0h-1.73ZM2867.14,1298.1h1.73V1884.0h-1.73ZM2869.06,1282.4h1.73V1884.0h-1.73ZM2870.99,1564.9h1.73V1884.0h-1.73ZM2872.92,1738.1h1.73V1884.0h-1.73ZM2874.84,1734.0h1.73V1884.0h-1.73ZM2876.77,1778.5h1.73V1884.0h-1.73ZM2878.70,1757.2h1.73V1884.0h-1.73ZM2880.62,1745.6h1.73V1884.0h-1.73ZM2882.55,1748.4h1.73V1884.0h-1.73ZM2884.48,1749.7h1.73V1884.0h-1.73ZM2886.40,1744.3h1.73V1884.0h-1.73ZM2888.33,1728.0h1.73V1884.0h-1.73ZM2890.26,1748.8h1.73V1884.0h-1.73ZM2892.18,1728.9h1.73V1884.0h-1.73ZM2894.11,1705.2h1.73V1884.0h-1.73ZM2896.04,1657.2h1.73V1884.0h-1.73ZM2897.96,1646.4h1.73V1884.0h-1.73ZM2899.89,1588.7h1.73V1884.0h-1.73ZM2901.82,1632.2h1.73V1884.0h-1.73ZM2903.74,1725.4h1.73V1884.0h-1.73ZM2905.67,1684.6h1.73V1884.0h-1.73ZM2907.60,1580.7h1.73V1884.0h-1.73ZM2909.53,1574.6h1.73V1884.0h-1.73ZM2911.45,1608.0h1.73V1884.0h-1.73ZM2913.38,1638.6h1.73V1884.0h-1.73ZM2915.31,1593.2h1.73V1884.0h-1.73ZM2917.23,1698.2h1.73V1884.0h-1.73ZM2919.16,1660.2h1.73V1884.0h-1.73ZM2921.09,1597.5h1.73V1884.0h-1.73ZM2923.01,1572.8h1.73V1884.0h-1.73ZM2924.94,1596.1h1.73V1884.0h-1.73ZM2926.87,1584.7h1.73V1884.0h-1.73ZM2928.79,1602.7h1.73V1884.0h-1.73ZM2930.72,1656.6h1.73V1884.0h-1.73ZM2932.65,1686.7h1.73V1884.0h-1.73ZM2934.57,1598.0h1.73V1884.0h-1.73ZM2936.50,1539.6h1.73V1884.0h-1.73ZM2938.43,1551.8h1.73V1884.0h-1.73ZM2940.35,1587.9h1.73V1884.0h-1.73ZM2942.28,1563.8h1.73V1884.0h-1.73ZM2944.21,1664.1h1.73V1884.0h-1.73ZM2946.13,1651.9h1.73V1884.0h-1.73ZM2948.06,1569.0h1.73V1884.0h-1.73ZM2949.99,1599.7h1.73V1884.0h-1.73ZM2951.91,1601.4h1.73V1884.0h-1.73ZM2953.84,1521.4h1.73V1884.0h-1.73ZM2955.77,1541.5h1.73V1884.0h-1.73ZM2957.69,1645.6h1.73V1884.0h-1.73ZM2959.62,1635.2h1.73V1884.0h-1.73ZM2961.55,1527.4h1.73V1884.0h-1.73ZM2963.47,1503.0h1.73V1884.0h-1.73ZM2965.40,1487.3h1.73V1884.0h-1.73ZM2967.33,1471.5h1.73V1884.0h-1.73ZM2969.25,1444.1h1.73V1884.0h-1.73ZM2971.18,1693.5h1.73V1884.0h-1.73ZM2973.11,1686.3h1.73V1884.0h-1.73ZM2975.03,1473.2h1.73V1884.0h-1.73ZM2976.96,1423.1h1.73V1884.0h-1.73ZM2978.89,1363.1h1.73V1884.0h-1.73ZM2980.81,1423.8h1.73V1884.0h-1.73ZM2982.74,1396.4h1.73V1884.0h-1.73ZM2984.67,1670.2h1.73V1884.0h-1.73ZM2986.59,1660.1h1.73V1884.0h-1.73ZM2988.52,1308.1h1.73V1884.0h-1.73ZM2990.45,1536.4h1.73V1884.0h-1.73ZM2992.37,1467.4h1.73V1884.0h-1.73ZM2994.30,1354.6h1.73V1884.0h-1.73ZM2996.23,1457.1h1.73V1884.0h-1.73ZM2998.15,1612.0h1.73V1884.0h-1.73ZM3000.08,1607.3h1.73V1884.0h-1.73ZM3002.01,1338.7h1.73V1884.0h-1.73ZM3003.93,1494.9h1.73V1884.0h-1.73ZM3005.86,1394.0h1.73V1884.0h-1.73ZM3007.79,1504.3h1.73V1884.0h-1.73ZM3009.72,1380.9h1.73V1884.0h-1.73ZM3011.64,1611.1h1.73V1884.0h-1.73ZM3013.57,1674.5h1.73V1884.0h-1.73ZM3015.50,1484.5h1.73V1884.0h-1.73ZM3017.42,1361.2h1.73V1884.0h-1.73ZM3019.35,1420.7h1.73V1884.0h-1.73ZM3021.28,1277.6h1.73V1884.0h-1.73ZM3023.20,1418.8h1.73V1884.0h-1.73ZM3025.13,1640.8h1.73V1884.0h-1.73ZM3027.06,1598.1h1.73V1884.0h-1.73ZM3028.98,1236.3h1.73V1884.0h-1.73ZM3030.91,1378.7h1.73V1884.0h-1.73ZM3032.84,1398.1h1.73V1884.0h-1.73ZM3034.76,1408.5h1.73V1884.0h-1.73ZM3036.69,1245.8h1.73V1884.0h-1.73ZM3038.62,1632.7h1.73V1884.0h-1.73ZM3040.54,1670.7h1.73V1884.0h-1.73ZM3042.47,1285.0h1.73V1884.0h-1.73ZM3044.40,1267.9h1.73V1884.0h-1.73ZM3046.32,1450.5h1.73V1884.0h-1.73ZM3048.25,1272.2h1.73V1884.0h-1.73ZM3050.18,1308.5h1.73V1884.0h-1.73ZM3052.10,1599.2h1.73V1884.0h-1.73ZM3054.03,1583.5h1.73V1884.0h-1.73ZM3055.96,1250.3h1.73V1884.0h-1.73ZM3057.88,1278.4h1.73V1884.0h-1.73ZM3059.81,1024.8h1.73V1884.0h-1.73ZM3061.74,1191.6h1.73V1884.0h-1.73ZM3063.66,1069.3h1.73V1884.0h-1.73ZM3065.59,1591.5h1.73V1884.0h-1.73ZM3067.52,1612.8h1.73V1884.0h-1.73ZM3069.44,1172.1h1.73V1884.0h-1.73ZM3071.37,1181.6h1.73V1884.0h-1.73ZM3073.30,1138.6h1.73V1884.0h-1.73ZM3075.22,1099.3h1.73V1884.0h-1.73ZM3077.15,1251.7h1.73V1884.0h-1.73ZM3079.08,1642.7h1.73V1884.0h-1.73ZM3081.00,1627.3h1.73V1884.0h-1.73ZM3082.93,1096.2h1.73V1884.0h-1.73ZM3084.86,1242.8h1.73V1884.0h-1.73ZM3086.78,1096.3h1.73V1884.0h-1.73ZM3088.71,1141.5h1.73V1884.0h-1.73ZM3090.64,1088.1h1.73V1884.0h-1.73ZM3092.56,1588.6h1.73V1884.0h-1.73ZM3094.49,1599.9h1.73V1884.0h-1.73ZM3096.42,1183.0h1.73V1884.0h-1.73ZM3098.34,1302.4h1.73V1884.0h-1.73ZM3100.27,1105.5h1.73V1884.0h-1.73ZM3102.20,1203.6h1.73V1884.0h-1.73ZM3104.12,1118.6h1.73V1884.0h-1.73ZM3106.05,1618.9h1.73V1884.0h-1.73ZM3107.98,1643.6h1.73V1884.0h-1.73ZM3109.91,1103.5h1.73V1884.0h-1.73ZM3111.83,1158.9h1.73V1884.0h-1.73ZM3113.76,1303.4h1.73V1884.0h-1.73ZM3115.69,1135.3h1.73V1884.0h-1.73ZM3117.61,1076.4h1.73V1884.0h-1.73ZM3119.54,1611.1h1.73V1884.0h-1.73ZM3121.47,1615.2h1.73V1884.0h-1.73ZM3123.39,1208.7h1.73V1884.0h-1.73ZM3125.32,1209.3h1.73V1884.0h-1.73ZM3127.25,1173.4h1.73V1884.0h-1.73ZM3129.17,1876.7h1.73V1884.0h-1.73ZM3131.10,925.6h1.73V1884.0h-1.73ZM3133.03,1656.1h1.73V1884.0h-1.73ZM3134.95,1562.6h1.73V1884.0h-1.73ZM3136.88,1218.2h1.73V1884.0h-1.73ZM3138.81,1085.2h1.73V1884.0h-1.73ZM3140.73,1121.0h1.73V1884.0h-1.73ZM3142.66,1049.0h1.73V1884.0h-1.73ZM3144.59,1257.7h1.73V1884.0h-1.73ZM3146.51,1574.0h1.73V1884.0h-1.73ZM3148.44,1611.1h1.73V1884.0h-1.73ZM3150.37,1181.4h1.73V1884.0h-1.73ZM3152.29,1148.2h1.73V1884.0h-1.73ZM3154.22,1080.3h1.73V1884.0h-1.73ZM3156.15,1040.7h1.73V1884.0h-1.73ZM3158.07,1221.5h1.73V1884.0h-1.73ZM3160.00,1638.1h1.73V1884.0h-1.73ZM3161.93,1639.9h1.73V1884.0h-1.73ZM3163.85,1321.9h1.73V1884.0h-1.73ZM3165.78,1134.8h1.73V1884.0h-1.73ZM3167.71,1044.5h1.73V1884.0h-1.73ZM3169.63,1346.5h1.73V1884.0h-1.73ZM3171.56,1369.2h1.73V1884.0h-1.73ZM3173.49,1600.6h1.73V1884.0h-1.73ZM3175.41,1592.8h1.73V1884.0h-1.73ZM3177.34,1086.7h1.73V1884.0h-1.73ZM3179.27,1129.7h1.73V1884.0h-1.73ZM3181.19,1025.4h1.73V1884.0h-1.73ZM3183.12,1173.0h1.73V1884.0h-1.73ZM3185.05,1348.9h1.73V1884.0h-1.73ZM3186.97,1565.3h1.73V1884.0h-1.73ZM3188.90,1565.1h1.73V1884.0h-1.73ZM3190.83,1181.8h1.73V1884.0h-1.73ZM3192.75,867.5h1.73V1884.0h-1.73ZM3194.68,836.0h1.73V1884.0h-1.73ZM3196.61,1244.1h1.73V1884.0h-1.73ZM3198.53,1002.6h1.73V1884.0h-1.73ZM3200.46,1625.7h1.73V1884.0h-1.73ZM3202.39,1596.4h1.73V1884.0h-1.73ZM3204.31,1125.0h1.73V1884.0h-1.73ZM3206.24,1091.5h1.73V1884.0h-1.73ZM3208.17,1341.3h1.73V1884.0h-1.73ZM3210.09,1116.6h1.73V1884.0h-1.73ZM3212.02,1145.4h1.73V1884.0h-1.73ZM3213.95,1583.8h1.73V1884.0h-1.73ZM3215.88,1636.0h1.73V1884.0h-1.73ZM3217.80,940.1h1.73V1884.0h-1.73ZM3219.73,956.9h1.73V1884.0h-1.73ZM3221.66,1117.4h1.73V1884.0h-1.73ZM3223.58,1126.8h1.73V1884.0h-1.73ZM3225.51,962.3h1.73V1884.0h-1.73ZM3227.44,1592.7h1.73V1884.0h-1.73ZM3229.36,1610.3h1.73V1884.0h-1.73ZM3231.29,966.6h1.73V1884.0h-1.73ZM3233.22,1009.6h1.73V1884.0h-1.73ZM3235.14,1366.1h1.73V1884.0h-1.73ZM3237.07,189.8h1.73V1884.0h-1.73ZM3239.00,1347.5h1.73V1884.0h-1.73ZM3240.92,1614.4h1.73V1884.0h-1.73ZM3242.85,1640.0h1.73V1884.0h-1.73ZM3244.78,1047.7h1.73V1884.0h-1.73ZM3246.70,1182.4h1.73V1884.0h-1.73ZM3248.63,1152.3h1.73V1884.0h-1.73ZM3250.56,1193.1h1.73V1884.0h-1.73ZM3252.48,1204.6h1.73V1884.0h-1.73ZM3254.41,1566.1h1.73V1884.0h-1.73ZM3256.34,1588.7h1.73V1884.0h-1.73ZM3258.26,1120.3h1.73V1884.0h-1.73ZM3260.19,1164.3h1.73V1884.0h-1.73ZM3262.12,1143.0h1.73V1884.0h-1.73ZM3264.04,1016.0h1.73V1884.0h-1.73ZM3265.97,1196.4h1.73V1884.0h-1.73ZM3267.90,1626.6h1.73V1884.0h-1.73ZM3269.82,964.3h1.73V1884.0h-1.73ZM3271.75,1358.4h1.73V1884.0h-1.73ZM3273.68,1212.8h1.73V1884.0h-1.73ZM3275.60,1147.7h1.73V1884.0h-1.73ZM3277.53,1267.9h1.73V1884.0h-1.73ZM3279.46,1178.8h1.73V1884.0h-1.73ZM3281.38,1612.0h1.73V1884.0h-1.73ZM3283.31,1564.4h1.73V1884.0h-1.73ZM3285.24,1101.5h1.73V1884.0h-1.73ZM3287.16,1278.2h1.73V1884.0h-1.73Z" fill="#1FA8C9" fill-opacity="0.7"/>
<path d="M1314.0,338.0V1884.0" stroke="#333" stroke-width="2"/>
<g font-family="Liberation Sans, sans-serif" font-size="24" fill="#000"><text x="1307" y="1892.5" text-anchor="end">0</text><text x="1307" y="1650.5" text-anchor="end">100</text><text x="1307" y="1408.4" text-anchor="end">200</text><text x="1307" y="1166.4" text-anchor="end">300</text><text x="1307" y="924.4" text-anchor="end">400</text><text x="1307" y="682.3" text-anchor="end">500</text><text x="1307" y="440.3" text-anchor="end">600</text></g>
<g font-family="Liberation Sans, sans-serif" font-size="24" fill="#000"><text x="1512.6" y="1914.7" text-anchor="middle">2018-02-16</text><text x="1713.0" y="1914.7" text-anchor="middle">2018-05-31</text><text x="1913.4" y="1914.7" text-anchor="middle">2018-09-12</text><text x="2113.7" y="1914.7" text-anchor="middle">2018-12-25</text><text x="2314.1" y="1914.7" text-anchor="middle">2019-04-08</text><text x="2514.5" y="1914.7" text-anchor="middle">2019-07-21</text><text x="2714.9" y="1914.7" text-anchor="middle">2019-11-02</text><text x="2915.3" y="1914.7" text-anchor="middle">2020-02-14</text><text x="3115.6" y="1914.7" text-anchor="middle">2020-05-28</text></g>
<text x="2302.5" y="1972.5" text-anchor="middle" font-family="Liberation Sans, sans-serif" font-size="27.5" fill="#000">日期</text>
<text transform="translate(1201.2,1111) rotate(-90)" x="0" y="0" text-anchor="middle" font-family="Liberation Sans, sans-serif" font-size="27.5" fill="#000">数量</text>
</svg>
</body></html>
